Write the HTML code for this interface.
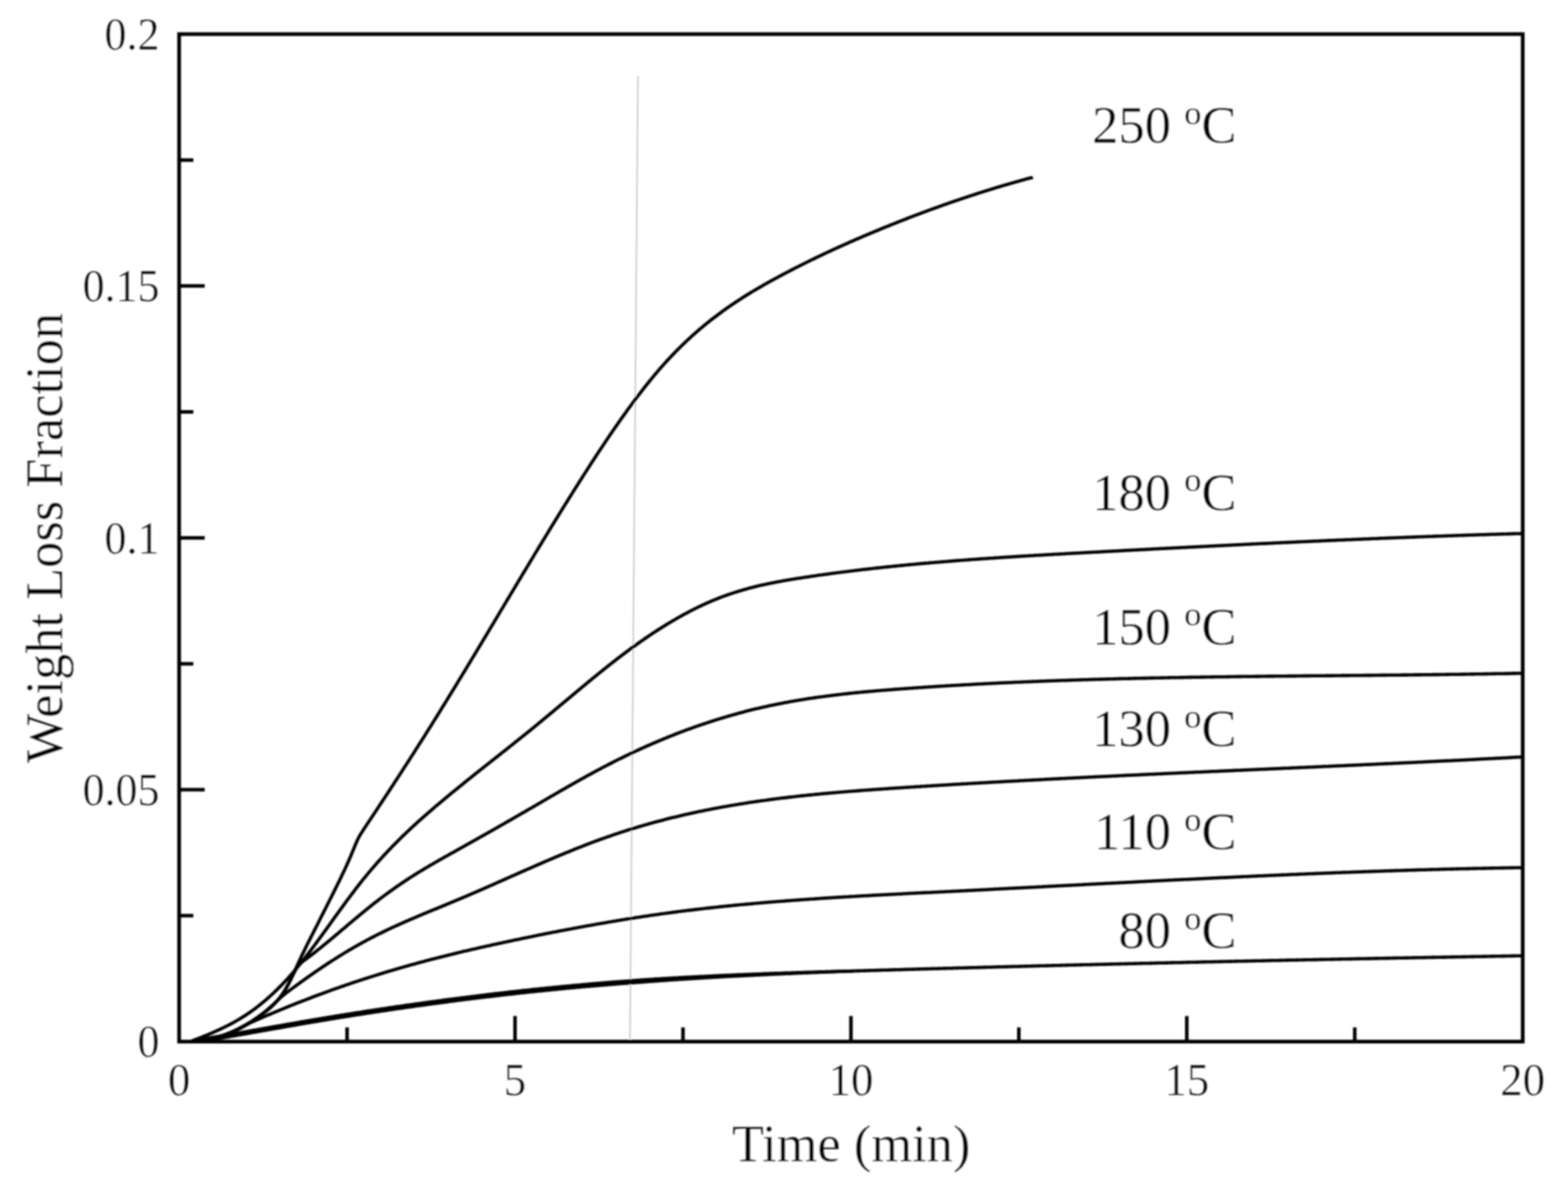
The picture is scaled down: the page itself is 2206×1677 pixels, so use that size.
<!DOCTYPE html>
<html lang="en"><head><meta charset="utf-8"><title>Weight Loss Fraction vs Time</title>
<style>html,body{margin:0;padding:0;background:#fff;}body{width:2206px;height:1677px;overflow:hidden;}svg{display:block;}text{font-family:"Liberation Serif","Times New Roman",Times,serif;fill:#000;stroke:#fff;stroke-width:0.4;stroke-linejoin:round;}</style>
</head><body>
<svg xmlns="http://www.w3.org/2000/svg" width="2206" height="1677" viewBox="0 0 2206 1677">
<defs><filter id="b" x="-2%" y="-2%" width="104%" height="104%"><feGaussianBlur stdDeviation="0.8"/></filter></defs>
<rect x="0" y="0" width="2206" height="1677" fill="#ffffff"/>
<g filter="url(#b)">
<line x1="897.5" y1="107" x2="886.3" y2="1462" stroke="#c8c8c8" stroke-width="2"/>
<g fill="none" stroke="#000" stroke-width="4.6" stroke-linejoin="round" stroke-linecap="butt">
<path d="M276.0,1464.6 L278.0,1464.4 L280.0,1464.3 L282.0,1464.1 L284.0,1463.9 L286.0,1463.6 L288.0,1463.3 L290.0,1463.0 L292.0,1462.6 L294.0,1462.3 L296.0,1461.8 L298.0,1461.4 L300.0,1460.9 L302.0,1460.4 L304.0,1459.9 L306.0,1459.3 L308.0,1458.7 L310.0,1458.0 L312.0,1457.4 L314.0,1456.7 L316.0,1456.0 L318.0,1455.2 L320.0,1454.4 L322.0,1453.6 L324.0,1452.8 L326.0,1451.9 L328.0,1451.0 L330.0,1450.1 L332.0,1449.1 L334.0,1448.1 L336.0,1447.1 L338.0,1446.1 L340.0,1445.0 L342.0,1443.9 L344.0,1442.8 L346.0,1441.7 L348.0,1440.5 L350.0,1439.3 L352.0,1438.1 L354.0,1436.9 L356.0,1435.6 L358.0,1434.3 L360.0,1433.0 L362.0,1431.6 L364.0,1430.2 L366.0,1428.9 L368.0,1427.4 L370.0,1426.0 L372.0,1424.5 L374.0,1423.0 L376.0,1421.4 L378.0,1419.8 L380.0,1418.1 L382.0,1416.3 L384.0,1414.4 L386.0,1412.4 L388.0,1410.3 L390.0,1408.1 L392.0,1405.7 L394.0,1403.1 L396.0,1400.4 L398.0,1397.5 L400.0,1394.4 L402.0,1391.1 L404.0,1387.5 L406.0,1383.8 L408.0,1379.9 L410.0,1375.8 L412.0,1371.6 L414.0,1367.3 L416.0,1362.9 L418.0,1358.6 L420.0,1354.2 L422.0,1349.9 L424.0,1345.6 L426.0,1341.5 L428.0,1337.4 L430.0,1333.3 L432.0,1329.3 L434.0,1325.3 L436.0,1321.4 L438.0,1317.4 L440.0,1313.5 L442.0,1309.5 L444.0,1305.6 L446.0,1301.7 L448.0,1297.7 L450.0,1293.8 L452.0,1289.8 L454.0,1285.9 L456.0,1281.9 L458.0,1278.0 L460.0,1274.0 L462.0,1270.0 L464.0,1266.0 L466.0,1262.1 L468.0,1258.1 L470.0,1254.1 L472.0,1250.1 L474.0,1246.0 L476.0,1242.0 L478.0,1237.9 L480.0,1233.8 L482.0,1229.6 L484.0,1225.4 L486.0,1221.1 L488.0,1216.7 L490.0,1212.3 L492.0,1207.7 L494.0,1203.0 L496.0,1198.2 L498.0,1193.3 L500.0,1188.4 L502.0,1183.8 L504.0,1179.5 L506.0,1175.8 L508.0,1172.5 L510.0,1169.4 L512.0,1166.3 L514.0,1163.3 L516.0,1160.3 L518.0,1157.3 L520.0,1154.3 L522.0,1151.3 L524.0,1148.3 L526.0,1145.2 L528.0,1142.2 L530.0,1139.2 L532.0,1136.2 L534.0,1133.1 L536.0,1130.1 L538.0,1127.1 L540.0,1124.0 L542.0,1121.0 L544.0,1118.0 L546.0,1114.9 L548.0,1111.9 L550.0,1108.8 L552.0,1105.7 L554.0,1102.7 L556.0,1099.6 L558.0,1096.5 L560.0,1093.5 L562.0,1090.4 L564.0,1087.3 L566.0,1084.2 L568.0,1081.1 L570.0,1078.0 L572.0,1074.9 L574.0,1071.8 L576.0,1068.7 L578.0,1065.6 L580.0,1062.5 L582.0,1059.4 L584.0,1056.2 L586.0,1053.1 L588.0,1050.0 L590.0,1046.8 L592.0,1043.7 L594.0,1040.5 L596.0,1037.4 L598.0,1034.2 L600.0,1031.0 L602.0,1027.8 L604.0,1024.7 L606.0,1021.5 L608.0,1018.3 L610.0,1015.1 L612.0,1011.9 L614.0,1008.7 L616.0,1005.5 L618.0,1002.2 L620.0,999.0 L622.0,995.8 L624.0,992.5 L626.0,989.3 L628.0,986.1 L630.0,982.8 L632.0,979.5 L634.0,976.3 L636.0,973.0 L638.0,969.8 L640.0,966.5 L642.0,963.2 L644.0,959.9 L646.0,956.6 L648.0,953.3 L650.0,950.1 L652.0,946.8 L654.0,943.5 L656.0,940.2 L658.0,936.9 L660.0,933.5 L662.0,930.2 L664.0,926.9 L666.0,923.6 L668.0,920.3 L670.0,917.0 L672.0,913.6 L674.0,910.3 L676.0,907.0 L678.0,903.7 L680.0,900.3 L682.0,897.0 L684.0,893.7 L686.0,890.3 L688.0,887.0 L690.0,883.6 L692.0,880.3 L694.0,877.0 L696.0,873.6 L698.0,870.3 L700.0,866.9 L702.0,863.6 L704.0,860.2 L706.0,856.9 L708.0,853.6 L710.0,850.2 L712.0,846.9 L714.0,843.5 L716.0,840.2 L718.0,836.8 L720.0,833.5 L722.0,830.2 L724.0,826.8 L726.0,823.5 L728.0,820.1 L730.0,816.8 L732.0,813.5 L734.0,810.1 L736.0,806.8 L738.0,803.5 L740.0,800.2 L742.0,796.8 L744.0,793.5 L746.0,790.2 L748.0,786.9 L750.0,783.6 L752.0,780.2 L754.0,776.9 L756.0,773.6 L758.0,770.3 L760.0,767.0 L762.0,763.7 L764.0,760.4 L766.0,757.2 L768.0,753.9 L770.0,750.6 L772.0,747.3 L774.0,744.0 L776.0,740.8 L778.0,737.5 L780.0,734.3 L782.0,731.0 L784.0,727.7 L786.0,724.5 L788.0,721.3 L790.0,718.0 L792.0,714.8 L794.0,711.6 L796.0,708.4 L798.0,705.2 L800.0,702.0 L802.0,698.8 L804.0,695.6 L806.0,692.4 L808.0,689.2 L810.0,686.0 L812.0,682.9 L814.0,679.7 L816.0,676.5 L818.0,673.4 L820.0,670.3 L822.0,667.1 L824.0,664.0 L826.0,660.9 L828.0,657.8 L830.0,654.7 L832.0,651.6 L834.0,648.5 L836.0,645.4 L838.0,642.4 L840.0,639.3 L842.0,636.3 L844.0,633.2 L846.0,630.2 L848.0,627.2 L850.0,624.2 L852.0,621.2 L854.0,618.2 L856.0,615.3 L858.0,612.3 L860.0,609.4 L862.0,606.5 L864.0,603.5 L866.0,600.6 L868.0,597.8 L870.0,594.9 L872.0,592.0 L874.0,589.2 L876.0,586.4 L878.0,583.6 L880.0,580.8 L882.0,578.0 L884.0,575.2 L886.0,572.5 L888.0,569.8 L890.0,567.0 L892.0,564.4 L894.0,561.7 L896.0,559.0 L898.0,556.4 L900.0,553.8 L902.0,551.2 L904.0,548.6 L906.0,546.0 L908.0,543.5 L910.0,541.0 L912.0,538.5 L914.0,536.0 L916.0,533.6 L918.0,531.1 L920.0,528.7 L922.0,526.3 L924.0,524.0 L926.0,521.6 L928.0,519.3 L930.0,517.0 L932.0,514.8 L934.0,512.5 L936.0,510.3 L938.0,508.1 L940.0,505.9 L942.0,503.8 L944.0,501.6 L946.0,499.5 L948.0,497.5 L950.0,495.4 L952.0,493.4 L954.0,491.3 L956.0,489.3 L958.0,487.4 L960.0,485.4 L962.0,483.5 L964.0,481.6 L966.0,479.7 L968.0,477.8 L970.0,476.0 L972.0,474.1 L974.0,472.3 L976.0,470.5 L978.0,468.8 L980.0,467.0 L982.0,465.3 L984.0,463.5 L986.0,461.8 L988.0,460.2 L990.0,458.5 L992.0,456.8 L994.0,455.2 L996.0,453.6 L998.0,452.0 L1000.0,450.4 L1002.0,448.9 L1004.0,447.3 L1006.0,445.8 L1008.0,444.3 L1010.0,442.8 L1012.0,441.3 L1014.0,439.8 L1016.0,438.3 L1018.0,436.9 L1020.0,435.5 L1022.0,434.0 L1024.0,432.6 L1026.0,431.3 L1028.0,429.9 L1030.0,428.5 L1032.0,427.2 L1034.0,425.8 L1036.0,424.5 L1038.0,423.2 L1040.0,421.9 L1042.0,420.6 L1044.0,419.3 L1046.0,418.0 L1048.0,416.8 L1050.0,415.5 L1052.0,414.3 L1054.0,413.0 L1056.0,411.8 L1058.0,410.6 L1060.0,409.4 L1062.0,408.2 L1064.0,407.0 L1066.0,405.9 L1068.0,404.7 L1070.0,403.5 L1072.0,402.4 L1074.0,401.2 L1076.0,400.1 L1078.0,399.0 L1080.0,397.8 L1082.0,396.7 L1084.0,395.6 L1086.0,394.5 L1088.0,393.4 L1090.0,392.3 L1092.0,391.2 L1094.0,390.2 L1096.0,389.1 L1098.0,388.0 L1100.0,386.9 L1102.0,385.9 L1104.0,384.8 L1106.0,383.8 L1108.0,382.7 L1110.0,381.7 L1112.0,380.6 L1114.0,379.6 L1116.0,378.6 L1118.0,377.5 L1120.0,376.5 L1122.0,375.5 L1124.0,374.5 L1126.0,373.5 L1128.0,372.5 L1130.0,371.5 L1132.0,370.5 L1134.0,369.5 L1136.0,368.5 L1138.0,367.5 L1140.0,366.5 L1142.0,365.5 L1144.0,364.6 L1146.0,363.6 L1148.0,362.6 L1150.0,361.7 L1152.0,360.7 L1154.0,359.8 L1156.0,358.8 L1158.0,357.9 L1160.0,356.9 L1162.0,356.0 L1164.0,355.0 L1166.0,354.1 L1168.0,353.2 L1170.0,352.3 L1172.0,351.3 L1174.0,350.4 L1176.0,349.5 L1178.0,348.6 L1180.0,347.7 L1182.0,346.8 L1184.0,345.9 L1186.0,345.0 L1188.0,344.1 L1190.0,343.2 L1192.0,342.3 L1194.0,341.4 L1196.0,340.5 L1198.0,339.7 L1200.0,338.8 L1202.0,337.9 L1204.0,337.0 L1206.0,336.2 L1208.0,335.3 L1210.0,334.5 L1212.0,333.6 L1214.0,332.7 L1216.0,331.9 L1218.0,331.0 L1220.0,330.2 L1222.0,329.3 L1224.0,328.5 L1226.0,327.7 L1228.0,326.8 L1230.0,326.0 L1232.0,325.2 L1234.0,324.3 L1236.0,323.5 L1238.0,322.7 L1240.0,321.8 L1242.0,321.0 L1244.0,320.2 L1246.0,319.4 L1248.0,318.6 L1250.0,317.8 L1252.0,317.0 L1254.0,316.2 L1256.0,315.4 L1258.0,314.6 L1260.0,313.8 L1262.0,313.0 L1264.0,312.2 L1266.0,311.4 L1268.0,310.6 L1270.0,309.8 L1272.0,309.0 L1274.0,308.3 L1276.0,307.5 L1278.0,306.7 L1280.0,305.9 L1282.0,305.2 L1284.0,304.4 L1286.0,303.6 L1288.0,302.9 L1290.0,302.1 L1292.0,301.4 L1294.0,300.6 L1296.0,299.9 L1298.0,299.1 L1300.0,298.4 L1302.0,297.6 L1304.0,296.9 L1306.0,296.1 L1308.0,295.4 L1310.0,294.7 L1312.0,294.0 L1314.0,293.2 L1316.0,292.5 L1318.0,291.8 L1320.0,291.1 L1322.0,290.3 L1324.0,289.6 L1326.0,288.9 L1328.0,288.2 L1330.0,287.5 L1332.0,286.8 L1334.0,286.1 L1336.0,285.4 L1338.0,284.7 L1340.0,284.0 L1342.0,283.3 L1344.0,282.6 L1346.0,282.0 L1348.0,281.3 L1350.0,280.6 L1352.0,279.9 L1354.0,279.3 L1356.0,278.6 L1358.0,277.9 L1360.0,277.3 L1362.0,276.6 L1364.0,275.9 L1366.0,275.3 L1368.0,274.6 L1370.0,274.0 L1372.0,273.3 L1374.0,272.7 L1376.0,272.0 L1378.0,271.4 L1380.0,270.8 L1382.0,270.1 L1384.0,269.5 L1386.0,268.9 L1388.0,268.2 L1390.0,267.6 L1392.0,267.0 L1394.0,266.4 L1396.0,265.8 L1398.0,265.1 L1400.0,264.5 L1402.0,263.9 L1404.0,263.3 L1406.0,262.7 L1408.0,262.1 L1410.0,261.5 L1412.0,260.9 L1414.0,260.3 L1416.0,259.8 L1418.0,259.2 L1420.0,258.6 L1422.0,258.0 L1424.0,257.4 L1426.0,256.9 L1428.0,256.3 L1430.0,255.7 L1432.0,255.2 L1434.0,254.6 L1436.0,254.0 L1438.0,253.5 L1440.0,252.9 L1442.0,252.4 L1444.0,251.8 L1446.0,251.3 L1448.0,250.8 L1450.0,250.3 L1452.0,249.9 L1453.0,249.4"/>
<path d="M270.0,1464.6 L272.0,1463.6 L274.0,1463.0 L276.0,1462.2 L278.0,1461.4 L280.0,1460.7 L282.0,1459.9 L284.0,1459.1 L286.0,1458.2 L288.0,1457.4 L290.0,1456.6 L292.0,1455.8 L294.0,1455.0 L296.0,1454.1 L298.0,1453.3 L300.0,1452.4 L302.0,1451.5 L304.0,1450.6 L306.0,1449.7 L308.0,1448.8 L310.0,1447.9 L312.0,1446.9 L314.0,1446.0 L316.0,1445.0 L318.0,1444.0 L320.0,1443.0 L322.0,1442.0 L324.0,1440.9 L326.0,1439.9 L328.0,1438.8 L330.0,1437.7 L332.0,1436.6 L334.0,1435.4 L336.0,1434.2 L338.0,1433.0 L340.0,1431.8 L342.0,1430.5 L344.0,1429.3 L346.0,1428.0 L348.0,1426.6 L350.0,1425.3 L352.0,1423.9 L354.0,1422.5 L356.0,1421.0 L358.0,1419.6 L360.0,1418.1 L362.0,1416.5 L364.0,1415.0 L366.0,1413.4 L368.0,1411.8 L370.0,1410.1 L372.0,1408.4 L374.0,1406.7 L376.0,1405.0 L378.0,1403.2 L380.0,1401.4 L382.0,1399.6 L384.0,1397.8 L386.0,1395.9 L388.0,1394.0 L390.0,1392.0 L392.0,1390.0 L394.0,1388.0 L396.0,1386.0 L398.0,1383.9 L400.0,1381.8 L402.0,1379.6 L404.0,1377.5 L406.0,1375.3 L408.0,1373.0 L410.0,1370.8 L412.0,1368.5 L414.0,1366.1 L416.0,1363.7 L418.0,1361.3 L420.0,1358.9 L422.0,1356.5 L424.0,1354.0 L426.0,1351.4 L428.0,1348.9 L430.0,1346.3 L432.0,1343.7 L434.0,1341.1 L436.0,1338.5 L438.0,1335.9 L440.0,1333.2 L442.0,1330.5 L444.0,1327.8 L446.0,1325.1 L448.0,1322.4 L450.0,1319.6 L452.0,1316.9 L454.0,1314.1 L456.0,1311.4 L458.0,1308.6 L460.0,1305.8 L462.0,1303.1 L464.0,1300.3 L466.0,1297.5 L468.0,1294.7 L470.0,1291.9 L472.0,1289.2 L474.0,1286.4 L476.0,1283.6 L478.0,1280.9 L480.0,1278.1 L482.0,1275.4 L484.0,1272.6 L486.0,1269.9 L488.0,1267.2 L490.0,1264.5 L492.0,1261.8 L494.0,1259.1 L496.0,1256.5 L498.0,1253.8 L500.0,1251.2 L502.0,1248.6 L504.0,1246.0 L506.0,1243.5 L508.0,1240.9 L510.0,1238.4 L512.0,1235.9 L514.0,1233.5 L516.0,1231.1 L518.0,1228.6 L520.0,1226.3 L522.0,1223.9 L524.0,1221.5 L526.0,1219.2 L528.0,1216.9 L530.0,1214.6 L532.0,1212.4 L534.0,1210.2 L536.0,1207.9 L538.0,1205.7 L540.0,1203.6 L542.0,1201.4 L544.0,1199.3 L546.0,1197.2 L548.0,1195.1 L550.0,1193.0 L552.0,1190.9 L554.0,1188.9 L556.0,1186.8 L558.0,1184.8 L560.0,1182.8 L562.0,1180.8 L564.0,1178.9 L566.0,1176.9 L568.0,1175.0 L570.0,1173.1 L572.0,1171.2 L574.0,1169.3 L576.0,1167.4 L578.0,1165.5 L580.0,1163.6 L582.0,1161.8 L584.0,1160.0 L586.0,1158.1 L588.0,1156.3 L590.0,1154.5 L592.0,1152.7 L594.0,1151.0 L596.0,1149.2 L598.0,1147.4 L600.0,1145.7 L602.0,1143.9 L604.0,1142.2 L606.0,1140.5 L608.0,1138.7 L610.0,1137.0 L612.0,1135.3 L614.0,1133.6 L616.0,1131.9 L618.0,1130.2 L620.0,1128.6 L622.0,1126.9 L624.0,1125.2 L626.0,1123.5 L628.0,1121.9 L630.0,1120.2 L632.0,1118.6 L634.0,1116.9 L636.0,1115.3 L638.0,1113.6 L640.0,1112.0 L642.0,1110.4 L644.0,1108.7 L646.0,1107.1 L648.0,1105.5 L650.0,1103.9 L652.0,1102.2 L654.0,1100.6 L656.0,1099.0 L658.0,1097.4 L660.0,1095.8 L662.0,1094.2 L664.0,1092.6 L666.0,1091.0 L668.0,1089.4 L670.0,1087.8 L672.0,1086.2 L674.0,1084.6 L676.0,1083.0 L678.0,1081.5 L680.0,1079.9 L682.0,1078.3 L684.0,1076.7 L686.0,1075.1 L688.0,1073.5 L690.0,1072.0 L692.0,1070.4 L694.0,1068.8 L696.0,1067.2 L698.0,1065.6 L700.0,1064.1 L702.0,1062.5 L704.0,1060.9 L706.0,1059.3 L708.0,1057.7 L710.0,1056.1 L712.0,1054.6 L714.0,1053.0 L716.0,1051.4 L718.0,1049.8 L720.0,1048.2 L722.0,1046.6 L724.0,1045.0 L726.0,1043.4 L728.0,1041.8 L730.0,1040.2 L732.0,1038.6 L734.0,1037.0 L736.0,1035.4 L738.0,1033.8 L740.0,1032.2 L742.0,1030.6 L744.0,1029.0 L746.0,1027.4 L748.0,1025.7 L750.0,1024.1 L752.0,1022.5 L754.0,1020.8 L756.0,1019.2 L758.0,1017.5 L760.0,1015.9 L762.0,1014.3 L764.0,1012.6 L766.0,1010.9 L768.0,1009.3 L770.0,1007.6 L772.0,1006.0 L774.0,1004.3 L776.0,1002.6 L778.0,1001.0 L780.0,999.3 L782.0,997.6 L784.0,995.9 L786.0,994.3 L788.0,992.6 L790.0,990.9 L792.0,989.3 L794.0,987.6 L796.0,985.9 L798.0,984.2 L800.0,982.6 L802.0,980.9 L804.0,979.2 L806.0,977.5 L808.0,975.9 L810.0,974.2 L812.0,972.5 L814.0,970.9 L816.0,969.2 L818.0,967.5 L820.0,965.9 L822.0,964.2 L824.0,962.6 L826.0,960.9 L828.0,959.3 L830.0,957.6 L832.0,956.0 L834.0,954.3 L836.0,952.7 L838.0,951.1 L840.0,949.5 L842.0,947.8 L844.0,946.2 L846.0,944.6 L848.0,943.0 L850.0,941.4 L852.0,939.8 L854.0,938.2 L856.0,936.6 L858.0,935.0 L860.0,933.5 L862.0,931.9 L864.0,930.3 L866.0,928.8 L868.0,927.2 L870.0,925.7 L872.0,924.2 L874.0,922.6 L876.0,921.1 L878.0,919.6 L880.0,918.1 L882.0,916.6 L884.0,915.1 L886.0,913.7 L888.0,912.2 L890.0,910.7 L892.0,909.3 L894.0,907.8 L896.0,906.4 L898.0,905.0 L900.0,903.6 L902.0,902.2 L904.0,900.8 L906.0,899.4 L908.0,898.0 L910.0,896.6 L912.0,895.3 L914.0,893.9 L916.0,892.6 L918.0,891.2 L920.0,889.9 L922.0,888.6 L924.0,887.3 L926.0,886.0 L928.0,884.7 L930.0,883.5 L932.0,882.2 L934.0,881.0 L936.0,879.7 L938.0,878.5 L940.0,877.3 L942.0,876.1 L944.0,874.9 L946.0,873.7 L948.0,872.5 L950.0,871.4 L952.0,870.2 L954.0,869.1 L956.0,867.9 L958.0,866.8 L960.0,865.7 L962.0,864.6 L964.0,863.5 L966.0,862.5 L968.0,861.4 L970.0,860.3 L972.0,859.3 L974.0,858.3 L976.0,857.3 L978.0,856.3 L980.0,855.3 L982.0,854.3 L984.0,853.3 L986.0,852.4 L988.0,851.4 L990.0,850.5 L992.0,849.6 L994.0,848.7 L996.0,847.8 L998.0,846.9 L1000.0,846.1 L1002.0,845.2 L1004.0,844.4 L1006.0,843.6 L1008.0,842.8 L1010.0,842.0 L1012.0,841.2 L1014.0,840.4 L1016.0,839.6 L1018.0,838.9 L1020.0,838.2 L1022.0,837.5 L1024.0,836.7 L1026.0,836.1 L1028.0,835.4 L1030.0,834.7 L1032.0,834.1 L1034.0,833.4 L1036.0,832.8 L1038.0,832.2 L1040.0,831.5 L1042.0,830.9 L1044.0,830.4 L1046.0,829.8 L1048.0,829.2 L1050.0,828.7 L1052.0,828.1 L1054.0,827.6 L1056.0,827.0 L1058.0,826.5 L1060.0,826.0 L1062.0,825.5 L1064.0,825.0 L1066.0,824.5 L1068.0,824.1 L1070.0,823.6 L1072.0,823.1 L1074.0,822.7 L1076.0,822.3 L1078.0,821.8 L1080.0,821.4 L1082.0,821.0 L1084.0,820.6 L1086.0,820.2 L1088.0,819.8 L1090.0,819.4 L1092.0,819.0 L1094.0,818.6 L1096.0,818.2 L1098.0,817.9 L1100.0,817.5 L1102.0,817.1 L1104.0,816.8 L1106.0,816.4 L1108.0,816.1 L1110.0,815.7 L1112.0,815.4 L1114.0,815.1 L1116.0,814.8 L1118.0,814.4 L1120.0,814.1 L1122.0,813.8 L1124.0,813.5 L1126.0,813.2 L1128.0,812.9 L1130.0,812.6 L1132.0,812.2 L1134.0,811.9 L1136.0,811.7 L1138.0,811.4 L1140.0,811.1 L1142.0,810.8 L1144.0,810.5 L1146.0,810.2 L1148.0,809.9 L1150.0,809.6 L1152.0,809.3 L1154.0,809.0 L1156.0,808.8 L1158.0,808.5 L1160.0,808.2 L1162.0,807.9 L1164.0,807.7 L1166.0,807.4 L1168.0,807.1 L1170.0,806.8 L1172.0,806.6 L1174.0,806.3 L1176.0,806.1 L1178.0,805.8 L1180.0,805.5 L1182.0,805.3 L1184.0,805.0 L1186.0,804.8 L1188.0,804.5 L1190.0,804.3 L1192.0,804.0 L1194.0,803.8 L1196.0,803.5 L1198.0,803.3 L1200.0,803.0 L1202.0,802.8 L1204.0,802.5 L1206.0,802.3 L1208.0,802.1 L1210.0,801.8 L1212.0,801.6 L1214.0,801.3 L1216.0,801.1 L1218.0,800.9 L1220.0,800.7 L1222.0,800.4 L1224.0,800.2 L1226.0,800.0 L1228.0,799.8 L1230.0,799.5 L1232.0,799.3 L1234.0,799.1 L1236.0,798.9 L1238.0,798.7 L1240.0,798.4 L1242.0,798.2 L1244.0,798.0 L1246.0,797.8 L1248.0,797.6 L1250.0,797.4 L1252.0,797.2 L1254.0,797.0 L1256.0,796.8 L1258.0,796.6 L1260.0,796.4 L1262.0,796.2 L1264.0,796.0 L1266.0,795.8 L1268.0,795.6 L1270.0,795.4 L1272.0,795.2 L1274.0,795.0 L1276.0,794.8 L1278.0,794.6 L1280.0,794.4 L1282.0,794.2 L1284.0,794.0 L1286.0,793.9 L1288.0,793.7 L1290.0,793.5 L1292.0,793.3 L1294.0,793.1 L1296.0,792.9 L1298.0,792.8 L1300.0,792.6 L1302.0,792.4 L1304.0,792.2 L1306.0,792.1 L1308.0,791.9 L1310.0,791.7 L1312.0,791.5 L1314.0,791.4 L1316.0,791.2 L1318.0,791.0 L1320.0,790.9 L1322.0,790.7 L1324.0,790.5 L1326.0,790.4 L1328.0,790.2 L1330.0,790.0 L1332.0,789.9 L1334.0,789.7 L1336.0,789.6 L1338.0,789.4 L1340.0,789.2 L1342.0,789.1 L1344.0,788.9 L1346.0,788.8 L1348.0,788.6 L1350.0,788.5 L1352.0,788.3 L1354.0,788.2 L1356.0,788.0 L1358.0,787.9 L1360.0,787.7 L1362.0,787.6 L1364.0,787.4 L1366.0,787.3 L1368.0,787.1 L1370.0,787.0 L1372.0,786.9 L1374.0,786.7 L1376.0,786.6 L1378.0,786.4 L1380.0,786.3 L1382.0,786.1 L1384.0,786.0 L1386.0,785.9 L1388.0,785.7 L1390.0,785.6 L1392.0,785.5 L1394.0,785.3 L1396.0,785.2 L1398.0,785.1 L1400.0,784.9 L1402.0,784.8 L1404.0,784.7 L1406.0,784.5 L1408.0,784.4 L1410.0,784.3 L1412.0,784.1 L1414.0,784.0 L1416.0,783.9 L1418.0,783.8 L1420.0,783.6 L1422.0,783.5 L1424.0,783.4 L1426.0,783.3 L1428.0,783.1 L1430.0,783.0 L1432.0,782.9 L1434.0,782.8 L1436.0,782.6 L1438.0,782.5 L1440.0,782.4 L1442.0,782.3 L1444.0,782.2 L1446.0,782.0 L1448.0,781.9 L1450.0,781.8 L1452.0,781.7 L1454.0,781.6 L1456.0,781.4 L1458.0,781.3 L1460.0,781.2 L1462.0,781.1 L1464.0,781.0 L1466.0,780.9 L1468.0,780.7 L1470.0,780.6 L1472.0,780.5 L1474.0,780.4 L1476.0,780.3 L1478.0,780.2 L1480.0,780.1 L1482.0,779.9 L1484.0,779.8 L1486.0,779.7 L1488.0,779.6 L1490.0,779.5 L1492.0,779.4 L1494.0,779.3 L1496.0,779.2 L1498.0,779.1 L1500.0,778.9 L1502.0,778.8 L1504.0,778.7 L1506.0,778.6 L1508.0,778.5 L1510.0,778.4 L1512.0,778.3 L1514.0,778.2 L1516.0,778.1 L1518.0,778.0 L1520.0,777.9 L1522.0,777.7 L1524.0,777.6 L1526.0,777.5 L1528.0,777.4 L1530.0,777.3 L1532.0,777.2 L1534.0,777.1 L1536.0,777.0 L1538.0,776.9 L1540.0,776.8 L1542.0,776.7 L1544.0,776.6 L1546.0,776.5 L1548.0,776.4 L1550.0,776.2 L1552.0,776.1 L1554.0,776.0 L1556.0,775.9 L1558.0,775.8 L1560.0,775.7 L1562.0,775.6 L1564.0,775.5 L1566.0,775.4 L1568.0,775.3 L1570.0,775.2 L1572.0,775.1 L1574.0,775.0 L1576.0,774.9 L1578.0,774.8 L1580.0,774.6 L1582.0,774.5 L1584.0,774.4 L1586.0,774.3 L1588.0,774.2 L1590.0,774.1 L1592.0,774.0 L1594.0,773.9 L1596.0,773.8 L1598.0,773.7 L1600.0,773.6 L1602.0,773.5 L1604.0,773.4 L1606.0,773.3 L1608.0,773.2 L1610.0,773.1 L1612.0,773.0 L1614.0,772.9 L1616.0,772.8 L1618.0,772.7 L1620.0,772.5 L1622.0,772.4 L1624.0,772.3 L1626.0,772.2 L1628.0,772.1 L1630.0,772.0 L1632.0,771.9 L1634.0,771.8 L1636.0,771.7 L1638.0,771.6 L1640.0,771.5 L1642.0,771.4 L1644.0,771.3 L1646.0,771.2 L1648.0,771.1 L1650.0,771.0 L1652.0,770.9 L1654.0,770.8 L1656.0,770.7 L1658.0,770.6 L1660.0,770.5 L1662.0,770.4 L1664.0,770.3 L1666.0,770.2 L1668.0,770.1 L1670.0,770.0 L1672.0,769.9 L1674.0,769.8 L1676.0,769.7 L1678.0,769.6 L1680.0,769.5 L1682.0,769.4 L1684.0,769.3 L1686.0,769.2 L1688.0,769.1 L1690.0,769.0 L1692.0,768.9 L1694.0,768.8 L1696.0,768.7 L1698.0,768.6 L1700.0,768.5 L1702.0,768.4 L1704.0,768.3 L1706.0,768.2 L1708.0,768.1 L1710.0,768.0 L1712.0,767.9 L1714.0,767.8 L1716.0,767.7 L1718.0,767.6 L1720.0,767.5 L1722.0,767.4 L1724.0,767.3 L1726.0,767.2 L1728.0,767.1 L1730.0,767.0 L1732.0,766.9 L1734.0,766.8 L1736.0,766.7 L1738.0,766.6 L1740.0,766.5 L1742.0,766.4 L1744.0,766.3 L1746.0,766.2 L1748.0,766.1 L1750.0,766.0 L1752.0,765.9 L1754.0,765.8 L1756.0,765.7 L1758.0,765.6 L1760.0,765.5 L1762.0,765.4 L1764.0,765.3 L1766.0,765.2 L1768.0,765.1 L1770.0,765.0 L1772.0,764.9 L1774.0,764.8 L1776.0,764.7 L1778.0,764.6 L1780.0,764.6 L1782.0,764.5 L1784.0,764.4 L1786.0,764.3 L1788.0,764.2 L1790.0,764.1 L1792.0,764.0 L1794.0,763.9 L1796.0,763.8 L1798.0,763.7 L1800.0,763.6 L1802.0,763.5 L1804.0,763.4 L1806.0,763.3 L1808.0,763.2 L1810.0,763.1 L1812.0,763.1 L1814.0,763.0 L1816.0,762.9 L1818.0,762.8 L1820.0,762.7 L1822.0,762.6 L1824.0,762.5 L1826.0,762.4 L1828.0,762.3 L1830.0,762.2 L1832.0,762.1 L1834.0,762.0 L1836.0,762.0 L1838.0,761.9 L1840.0,761.8 L1842.0,761.7 L1844.0,761.6 L1846.0,761.5 L1848.0,761.4 L1850.0,761.3 L1852.0,761.2 L1854.0,761.2 L1856.0,761.1 L1858.0,761.0 L1860.0,760.9 L1862.0,760.8 L1864.0,760.7 L1866.0,760.6 L1868.0,760.5 L1870.0,760.4 L1872.0,760.4 L1874.0,760.3 L1876.0,760.2 L1878.0,760.1 L1880.0,760.0 L1882.0,759.9 L1884.0,759.8 L1886.0,759.8 L1888.0,759.7 L1890.0,759.6 L1892.0,759.5 L1894.0,759.4 L1896.0,759.3 L1898.0,759.2 L1900.0,759.2 L1902.0,759.1 L1904.0,759.0 L1906.0,758.9 L1908.0,758.8 L1910.0,758.7 L1912.0,758.6 L1914.0,758.6 L1916.0,758.5 L1918.0,758.4 L1920.0,758.3 L1922.0,758.2 L1924.0,758.2 L1926.0,758.1 L1928.0,758.0 L1930.0,757.9 L1932.0,757.8 L1934.0,757.7 L1936.0,757.7 L1938.0,757.6 L1940.0,757.5 L1942.0,757.4 L1944.0,757.3 L1946.0,757.3 L1948.0,757.2 L1950.0,757.1 L1952.0,757.0 L1954.0,756.9 L1956.0,756.9 L1958.0,756.8 L1960.0,756.7 L1962.0,756.6 L1964.0,756.5 L1966.0,756.5 L1968.0,756.4 L1970.0,756.3 L1972.0,756.2 L1974.0,756.2 L1976.0,756.1 L1978.0,756.0 L1980.0,755.9 L1982.0,755.9 L1984.0,755.8 L1986.0,755.7 L1988.0,755.6 L1990.0,755.6 L1992.0,755.5 L1994.0,755.4 L1996.0,755.3 L1998.0,755.3 L2000.0,755.2 L2002.0,755.1 L2004.0,755.0 L2006.0,755.0 L2008.0,754.9 L2010.0,754.8 L2012.0,754.7 L2014.0,754.7 L2016.0,754.6 L2018.0,754.5 L2020.0,754.4 L2022.0,754.4 L2024.0,754.3 L2026.0,754.2 L2028.0,754.2 L2030.0,754.1 L2032.0,754.0 L2034.0,754.0 L2036.0,753.9 L2038.0,753.8 L2040.0,753.7 L2042.0,753.7 L2044.0,753.6 L2046.0,753.5 L2048.0,753.5 L2050.0,753.4 L2052.0,753.3 L2054.0,753.3 L2056.0,753.2 L2058.0,753.1 L2060.0,753.1 L2062.0,753.0 L2064.0,752.9 L2066.0,752.9 L2068.0,752.8 L2070.0,752.7 L2072.0,752.7 L2074.0,752.6 L2076.0,752.5 L2078.0,752.5 L2080.0,752.4 L2082.0,752.3 L2084.0,752.3 L2086.0,752.2 L2088.0,752.2 L2090.0,752.1 L2092.0,752.0 L2094.0,752.0 L2096.0,751.9 L2098.0,751.8 L2100.0,751.8 L2102.0,751.7 L2104.0,751.7 L2106.0,751.6 L2108.0,751.5 L2110.0,751.5 L2112.0,751.4 L2114.0,751.4 L2116.0,751.3 L2118.0,751.2 L2120.0,751.2 L2122.0,751.1 L2124.0,751.1 L2126.0,751.0 L2128.0,750.9 L2130.0,750.9 L2132.0,750.8 L2134.0,750.8 L2136.0,750.7 L2138.0,750.7 L2140.0,750.6"/>
<path d="M276.0,1464.6 L278.0,1464.3 L280.0,1464.1 L282.0,1463.8 L284.0,1463.5 L286.0,1463.2 L288.0,1462.9 L290.0,1462.5 L292.0,1462.1 L294.0,1461.7 L296.0,1461.3 L298.0,1460.9 L300.0,1460.4 L302.0,1459.9 L304.0,1459.4 L306.0,1458.9 L308.0,1458.3 L310.0,1457.7 L312.0,1457.1 L314.0,1456.5 L316.0,1455.8 L318.0,1455.1 L320.0,1454.4 L322.0,1453.7 L324.0,1452.9 L326.0,1452.1 L328.0,1451.2 L330.0,1450.4 L332.0,1449.5 L334.0,1448.5 L336.0,1447.6 L338.0,1446.6 L340.0,1445.6 L342.0,1444.5 L344.0,1443.4 L346.0,1442.3 L348.0,1441.1 L350.0,1439.9 L352.0,1438.7 L354.0,1437.4 L356.0,1436.1 L358.0,1434.8 L360.0,1433.4 L362.0,1432.0 L364.0,1430.6 L366.0,1429.1 L368.0,1427.5 L370.0,1426.0 L372.0,1424.4 L374.0,1422.7 L376.0,1421.0 L378.0,1419.3 L380.0,1417.5 L382.0,1415.7 L384.0,1413.8 L386.0,1411.9 L388.0,1409.9 L390.0,1407.8 L392.0,1405.6 L394.0,1403.2 L396.0,1400.6 L398.0,1397.8 L400.0,1394.7 L402.0,1391.4 L404.0,1387.9 L406.0,1384.1 L408.0,1380.1 L410.0,1376.1 L412.0,1372.0 L414.0,1367.9 L416.0,1364.1 L418.0,1360.7 L420.0,1358.0 L422.0,1355.9 L424.0,1354.2 L426.0,1352.6 L428.0,1351.2 L430.0,1349.7 L432.0,1348.2 L434.0,1346.7 L436.0,1345.2 L438.0,1343.7 L440.0,1342.1 L442.0,1340.6 L444.0,1339.0 L446.0,1337.4 L448.0,1335.8 L450.0,1334.2 L452.0,1332.6 L454.0,1331.0 L456.0,1329.3 L458.0,1327.7 L460.0,1326.0 L462.0,1324.4 L464.0,1322.7 L466.0,1321.1 L468.0,1319.4 L470.0,1317.7 L472.0,1316.0 L474.0,1314.4 L476.0,1312.7 L478.0,1311.0 L480.0,1309.3 L482.0,1307.6 L484.0,1305.9 L486.0,1304.2 L488.0,1302.5 L490.0,1300.8 L492.0,1299.1 L494.0,1297.5 L496.0,1295.8 L498.0,1294.1 L500.0,1292.4 L502.0,1290.7 L504.0,1289.1 L506.0,1287.4 L508.0,1285.8 L510.0,1284.1 L512.0,1282.5 L514.0,1280.8 L516.0,1279.2 L518.0,1277.6 L520.0,1276.0 L522.0,1274.4 L524.0,1272.8 L526.0,1271.2 L528.0,1269.7 L530.0,1268.1 L532.0,1266.6 L534.0,1265.0 L536.0,1263.5 L538.0,1262.0 L540.0,1260.5 L542.0,1259.0 L544.0,1257.5 L546.0,1256.1 L548.0,1254.6 L550.0,1253.2 L552.0,1251.8 L554.0,1250.3 L556.0,1248.9 L558.0,1247.5 L560.0,1246.1 L562.0,1244.8 L564.0,1243.4 L566.0,1242.0 L568.0,1240.7 L570.0,1239.4 L572.0,1238.0 L574.0,1236.7 L576.0,1235.4 L578.0,1234.1 L580.0,1232.9 L582.0,1231.6 L584.0,1230.3 L586.0,1229.1 L588.0,1227.8 L590.0,1226.6 L592.0,1225.4 L594.0,1224.2 L596.0,1223.0 L598.0,1221.8 L600.0,1220.6 L602.0,1219.4 L604.0,1218.2 L606.0,1217.0 L608.0,1215.9 L610.0,1214.7 L612.0,1213.6 L614.0,1212.4 L616.0,1211.3 L618.0,1210.1 L620.0,1209.0 L622.0,1207.9 L624.0,1206.7 L626.0,1205.6 L628.0,1204.5 L630.0,1203.4 L632.0,1202.2 L634.0,1201.1 L636.0,1200.0 L638.0,1198.9 L640.0,1197.8 L642.0,1196.7 L644.0,1195.5 L646.0,1194.4 L648.0,1193.3 L650.0,1192.2 L652.0,1191.1 L654.0,1190.0 L656.0,1188.8 L658.0,1187.7 L660.0,1186.6 L662.0,1185.5 L664.0,1184.3 L666.0,1183.2 L668.0,1182.1 L670.0,1181.0 L672.0,1179.8 L674.0,1178.7 L676.0,1177.6 L678.0,1176.5 L680.0,1175.3 L682.0,1174.2 L684.0,1173.1 L686.0,1171.9 L688.0,1170.8 L690.0,1169.7 L692.0,1168.5 L694.0,1167.4 L696.0,1166.3 L698.0,1165.1 L700.0,1164.0 L702.0,1162.8 L704.0,1161.7 L706.0,1160.6 L708.0,1159.4 L710.0,1158.3 L712.0,1157.1 L714.0,1156.0 L716.0,1154.8 L718.0,1153.7 L720.0,1152.5 L722.0,1151.4 L724.0,1150.2 L726.0,1149.1 L728.0,1147.9 L730.0,1146.8 L732.0,1145.6 L734.0,1144.5 L736.0,1143.3 L738.0,1142.2 L740.0,1141.0 L742.0,1139.8 L744.0,1138.7 L746.0,1137.5 L748.0,1136.4 L750.0,1135.2 L752.0,1134.0 L754.0,1132.9 L756.0,1131.7 L758.0,1130.5 L760.0,1129.4 L762.0,1128.2 L764.0,1127.1 L766.0,1125.9 L768.0,1124.7 L770.0,1123.6 L772.0,1122.4 L774.0,1121.2 L776.0,1120.1 L778.0,1118.9 L780.0,1117.8 L782.0,1116.6 L784.0,1115.4 L786.0,1114.3 L788.0,1113.1 L790.0,1112.0 L792.0,1110.8 L794.0,1109.7 L796.0,1108.5 L798.0,1107.4 L800.0,1106.2 L802.0,1105.1 L804.0,1104.0 L806.0,1102.8 L808.0,1101.7 L810.0,1100.6 L812.0,1099.4 L814.0,1098.3 L816.0,1097.2 L818.0,1096.1 L820.0,1095.0 L822.0,1093.9 L824.0,1092.7 L826.0,1091.6 L828.0,1090.5 L830.0,1089.4 L832.0,1088.4 L834.0,1087.3 L836.0,1086.2 L838.0,1085.1 L840.0,1084.0 L842.0,1083.0 L844.0,1081.9 L846.0,1080.8 L848.0,1079.8 L850.0,1078.7 L852.0,1077.7 L854.0,1076.7 L856.0,1075.6 L858.0,1074.6 L860.0,1073.6 L862.0,1072.6 L864.0,1071.5 L866.0,1070.5 L868.0,1069.5 L870.0,1068.5 L872.0,1067.5 L874.0,1066.6 L876.0,1065.6 L878.0,1064.6 L880.0,1063.6 L882.0,1062.7 L884.0,1061.7 L886.0,1060.7 L888.0,1059.8 L890.0,1058.9 L892.0,1057.9 L894.0,1057.0 L896.0,1056.1 L898.0,1055.1 L900.0,1054.2 L902.0,1053.3 L904.0,1052.4 L906.0,1051.5 L908.0,1050.6 L910.0,1049.7 L912.0,1048.8 L914.0,1047.9 L916.0,1047.1 L918.0,1046.2 L920.0,1045.3 L922.0,1044.5 L924.0,1043.6 L926.0,1042.8 L928.0,1041.9 L930.0,1041.1 L932.0,1040.3 L934.0,1039.4 L936.0,1038.6 L938.0,1037.8 L940.0,1037.0 L942.0,1036.2 L944.0,1035.4 L946.0,1034.6 L948.0,1033.8 L950.0,1033.0 L952.0,1032.2 L954.0,1031.5 L956.0,1030.7 L958.0,1029.9 L960.0,1029.2 L962.0,1028.4 L964.0,1027.7 L966.0,1026.9 L968.0,1026.2 L970.0,1025.5 L972.0,1024.8 L974.0,1024.0 L976.0,1023.3 L978.0,1022.6 L980.0,1021.9 L982.0,1021.2 L984.0,1020.5 L986.0,1019.8 L988.0,1019.1 L990.0,1018.5 L992.0,1017.8 L994.0,1017.1 L996.0,1016.5 L998.0,1015.8 L1000.0,1015.2 L1002.0,1014.5 L1004.0,1013.9 L1006.0,1013.2 L1008.0,1012.6 L1010.0,1012.0 L1012.0,1011.4 L1014.0,1010.8 L1016.0,1010.2 L1018.0,1009.5 L1020.0,1009.0 L1022.0,1008.4 L1024.0,1007.8 L1026.0,1007.2 L1028.0,1006.6 L1030.0,1006.0 L1032.0,1005.5 L1034.0,1004.9 L1036.0,1004.4 L1038.0,1003.8 L1040.0,1003.3 L1042.0,1002.7 L1044.0,1002.2 L1046.0,1001.7 L1048.0,1001.1 L1050.0,1000.6 L1052.0,1000.1 L1054.0,999.6 L1056.0,999.1 L1058.0,998.6 L1060.0,998.1 L1062.0,997.6 L1064.0,997.1 L1066.0,996.7 L1068.0,996.2 L1070.0,995.7 L1072.0,995.3 L1074.0,994.8 L1076.0,994.4 L1078.0,993.9 L1080.0,993.5 L1082.0,993.1 L1084.0,992.6 L1086.0,992.2 L1088.0,991.8 L1090.0,991.4 L1092.0,991.0 L1094.0,990.6 L1096.0,990.2 L1098.0,989.8 L1100.0,989.4 L1102.0,989.0 L1104.0,988.6 L1106.0,988.2 L1108.0,987.9 L1110.0,987.5 L1112.0,987.1 L1114.0,986.8 L1116.0,986.4 L1118.0,986.1 L1120.0,985.7 L1122.0,985.4 L1124.0,985.1 L1126.0,984.7 L1128.0,984.4 L1130.0,984.1 L1132.0,983.8 L1134.0,983.4 L1136.0,983.1 L1138.0,982.8 L1140.0,982.5 L1142.0,982.2 L1144.0,981.9 L1146.0,981.6 L1148.0,981.4 L1150.0,981.1 L1152.0,980.8 L1154.0,980.5 L1156.0,980.2 L1158.0,980.0 L1160.0,979.7 L1162.0,979.4 L1164.0,979.2 L1166.0,978.9 L1168.0,978.7 L1170.0,978.4 L1172.0,978.2 L1174.0,977.9 L1176.0,977.7 L1178.0,977.4 L1180.0,977.2 L1182.0,977.0 L1184.0,976.8 L1186.0,976.5 L1188.0,976.3 L1190.0,976.1 L1192.0,975.9 L1194.0,975.6 L1196.0,975.4 L1198.0,975.2 L1200.0,975.0 L1202.0,974.8 L1204.0,974.6 L1206.0,974.4 L1208.0,974.2 L1210.0,974.0 L1212.0,973.8 L1214.0,973.6 L1216.0,973.4 L1218.0,973.3 L1220.0,973.1 L1222.0,972.9 L1224.0,972.7 L1226.0,972.5 L1228.0,972.4 L1230.0,972.2 L1232.0,972.0 L1234.0,971.8 L1236.0,971.7 L1238.0,971.5 L1240.0,971.3 L1242.0,971.2 L1244.0,971.0 L1246.0,970.9 L1248.0,970.7 L1250.0,970.5 L1252.0,970.4 L1254.0,970.2 L1256.0,970.1 L1258.0,969.9 L1260.0,969.8 L1262.0,969.6 L1264.0,969.5 L1266.0,969.3 L1268.0,969.2 L1270.0,969.0 L1272.0,968.9 L1274.0,968.7 L1276.0,968.6 L1278.0,968.5 L1280.0,968.3 L1282.0,968.2 L1284.0,968.0 L1286.0,967.9 L1288.0,967.8 L1290.0,967.6 L1292.0,967.5 L1294.0,967.3 L1296.0,967.2 L1298.0,967.1 L1300.0,966.9 L1302.0,966.8 L1304.0,966.7 L1306.0,966.5 L1308.0,966.4 L1310.0,966.3 L1312.0,966.2 L1314.0,966.0 L1316.0,965.9 L1318.0,965.8 L1320.0,965.6 L1322.0,965.5 L1324.0,965.4 L1326.0,965.3 L1328.0,965.2 L1330.0,965.0 L1332.0,964.9 L1334.0,964.8 L1336.0,964.7 L1338.0,964.5 L1340.0,964.4 L1342.0,964.3 L1344.0,964.2 L1346.0,964.1 L1348.0,964.0 L1350.0,963.9 L1352.0,963.7 L1354.0,963.6 L1356.0,963.5 L1358.0,963.4 L1360.0,963.3 L1362.0,963.2 L1364.0,963.1 L1366.0,963.0 L1368.0,962.9 L1370.0,962.7 L1372.0,962.6 L1374.0,962.5 L1376.0,962.4 L1378.0,962.3 L1380.0,962.2 L1382.0,962.1 L1384.0,962.0 L1386.0,961.9 L1388.0,961.8 L1390.0,961.7 L1392.0,961.6 L1394.0,961.5 L1396.0,961.4 L1398.0,961.3 L1400.0,961.2 L1402.0,961.1 L1404.0,961.0 L1406.0,960.9 L1408.0,960.8 L1410.0,960.7 L1412.0,960.6 L1414.0,960.5 L1416.0,960.5 L1418.0,960.4 L1420.0,960.3 L1422.0,960.2 L1424.0,960.1 L1426.0,960.0 L1428.0,959.9 L1430.0,959.8 L1432.0,959.7 L1434.0,959.7 L1436.0,959.6 L1438.0,959.5 L1440.0,959.4 L1442.0,959.3 L1444.0,959.2 L1446.0,959.1 L1448.0,959.1 L1450.0,959.0 L1452.0,958.9 L1454.0,958.8 L1456.0,958.7 L1458.0,958.7 L1460.0,958.6 L1462.0,958.5 L1464.0,958.4 L1466.0,958.4 L1468.0,958.3 L1470.0,958.2 L1472.0,958.1 L1474.0,958.0 L1476.0,958.0 L1478.0,957.9 L1480.0,957.8 L1482.0,957.8 L1484.0,957.7 L1486.0,957.6 L1488.0,957.5 L1490.0,957.5 L1492.0,957.4 L1494.0,957.3 L1496.0,957.3 L1498.0,957.2 L1500.0,957.1 L1502.0,957.1 L1504.0,957.0 L1506.0,956.9 L1508.0,956.9 L1510.0,956.8 L1512.0,956.7 L1514.0,956.7 L1516.0,956.6 L1518.0,956.5 L1520.0,956.5 L1522.0,956.4 L1524.0,956.3 L1526.0,956.3 L1528.0,956.2 L1530.0,956.2 L1532.0,956.1 L1534.0,956.0 L1536.0,956.0 L1538.0,955.9 L1540.0,955.9 L1542.0,955.8 L1544.0,955.8 L1546.0,955.7 L1548.0,955.6 L1550.0,955.6 L1552.0,955.5 L1554.0,955.5 L1556.0,955.4 L1558.0,955.4 L1560.0,955.3 L1562.0,955.3 L1564.0,955.2 L1566.0,955.2 L1568.0,955.1 L1570.0,955.0 L1572.0,955.0 L1574.0,954.9 L1576.0,954.9 L1578.0,954.8 L1580.0,954.8 L1582.0,954.7 L1584.0,954.7 L1586.0,954.7 L1588.0,954.6 L1590.0,954.6 L1592.0,954.5 L1594.0,954.5 L1596.0,954.4 L1598.0,954.4 L1600.0,954.3 L1602.0,954.3 L1604.0,954.2 L1606.0,954.2 L1608.0,954.1 L1610.0,954.1 L1612.0,954.1 L1614.0,954.0 L1616.0,954.0 L1618.0,953.9 L1620.0,953.9 L1622.0,953.9 L1624.0,953.8 L1626.0,953.8 L1628.0,953.7 L1630.0,953.7 L1632.0,953.7 L1634.0,953.6 L1636.0,953.6 L1638.0,953.5 L1640.0,953.5 L1642.0,953.5 L1644.0,953.4 L1646.0,953.4 L1648.0,953.3 L1650.0,953.3 L1652.0,953.3 L1654.0,953.2 L1656.0,953.2 L1658.0,953.2 L1660.0,953.1 L1662.0,953.1 L1664.0,953.1 L1666.0,953.0 L1668.0,953.0 L1670.0,953.0 L1672.0,952.9 L1674.0,952.9 L1676.0,952.9 L1678.0,952.8 L1680.0,952.8 L1682.0,952.8 L1684.0,952.7 L1686.0,952.7 L1688.0,952.7 L1690.0,952.6 L1692.0,952.6 L1694.0,952.6 L1696.0,952.5 L1698.0,952.5 L1700.0,952.5 L1702.0,952.5 L1704.0,952.4 L1706.0,952.4 L1708.0,952.4 L1710.0,952.3 L1712.0,952.3 L1714.0,952.3 L1716.0,952.3 L1718.0,952.2 L1720.0,952.2 L1722.0,952.2 L1724.0,952.2 L1726.0,952.1 L1728.0,952.1 L1730.0,952.1 L1732.0,952.0 L1734.0,952.0 L1736.0,952.0 L1738.0,952.0 L1740.0,951.9 L1742.0,951.9 L1744.0,951.9 L1746.0,951.9 L1748.0,951.8 L1750.0,951.8 L1752.0,951.8 L1754.0,951.8 L1756.0,951.8 L1758.0,951.7 L1760.0,951.7 L1762.0,951.7 L1764.0,951.7 L1766.0,951.6 L1768.0,951.6 L1770.0,951.6 L1772.0,951.6 L1774.0,951.5 L1776.0,951.5 L1778.0,951.5 L1780.0,951.5 L1782.0,951.5 L1784.0,951.4 L1786.0,951.4 L1788.0,951.4 L1790.0,951.4 L1792.0,951.4 L1794.0,951.3 L1796.0,951.3 L1798.0,951.3 L1800.0,951.3 L1802.0,951.3 L1804.0,951.2 L1806.0,951.2 L1808.0,951.2 L1810.0,951.2 L1812.0,951.1 L1814.0,951.1 L1816.0,951.1 L1818.0,951.1 L1820.0,951.1 L1822.0,951.1 L1824.0,951.0 L1826.0,951.0 L1828.0,951.0 L1830.0,951.0 L1832.0,951.0 L1834.0,950.9 L1836.0,950.9 L1838.0,950.9 L1840.0,950.9 L1842.0,950.9 L1844.0,950.8 L1846.0,950.8 L1848.0,950.8 L1850.0,950.8 L1852.0,950.8 L1854.0,950.8 L1856.0,950.7 L1858.0,950.7 L1860.0,950.7 L1862.0,950.7 L1864.0,950.7 L1866.0,950.6 L1868.0,950.6 L1870.0,950.6 L1872.0,950.6 L1874.0,950.6 L1876.0,950.6 L1878.0,950.5 L1880.0,950.5 L1882.0,950.5 L1884.0,950.5 L1886.0,950.5 L1888.0,950.4 L1890.0,950.4 L1892.0,950.4 L1894.0,950.4 L1896.0,950.4 L1898.0,950.4 L1900.0,950.3 L1902.0,950.3 L1904.0,950.3 L1906.0,950.3 L1908.0,950.3 L1910.0,950.2 L1912.0,950.2 L1914.0,950.2 L1916.0,950.2 L1918.0,950.2 L1920.0,950.1 L1922.0,950.1 L1924.0,950.1 L1926.0,950.1 L1928.0,950.1 L1930.0,950.1 L1932.0,950.0 L1934.0,950.0 L1936.0,950.0 L1938.0,950.0 L1940.0,950.0 L1942.0,949.9 L1944.0,949.9 L1946.0,949.9 L1948.0,949.9 L1950.0,949.9 L1952.0,949.8 L1954.0,949.8 L1956.0,949.8 L1958.0,949.8 L1960.0,949.8 L1962.0,949.7 L1964.0,949.7 L1966.0,949.7 L1968.0,949.7 L1970.0,949.7 L1972.0,949.6 L1974.0,949.6 L1976.0,949.6 L1978.0,949.6 L1980.0,949.6 L1982.0,949.5 L1984.0,949.5 L1986.0,949.5 L1988.0,949.5 L1990.0,949.4 L1992.0,949.4 L1994.0,949.4 L1996.0,949.4 L1998.0,949.4 L2000.0,949.3 L2002.0,949.3 L2004.0,949.3 L2006.0,949.3 L2008.0,949.2 L2010.0,949.2 L2012.0,949.2 L2014.0,949.2 L2016.0,949.1 L2018.0,949.1 L2020.0,949.1 L2022.0,949.1 L2024.0,949.1 L2026.0,949.0 L2028.0,949.0 L2030.0,949.0 L2032.0,949.0 L2034.0,948.9 L2036.0,948.9 L2038.0,948.9 L2040.0,948.8 L2042.0,948.8 L2044.0,948.8 L2046.0,948.8 L2048.0,948.7 L2050.0,948.7 L2052.0,948.7 L2054.0,948.7 L2056.0,948.6 L2058.0,948.6 L2060.0,948.6 L2062.0,948.5 L2064.0,948.5 L2066.0,948.5 L2068.0,948.5 L2070.0,948.4 L2072.0,948.4 L2074.0,948.4 L2076.0,948.3 L2078.0,948.3 L2080.0,948.3 L2082.0,948.2 L2084.0,948.2 L2086.0,948.2 L2088.0,948.1 L2090.0,948.1 L2092.0,948.1 L2094.0,948.0 L2096.0,948.0 L2098.0,948.0 L2100.0,947.9 L2102.0,947.9 L2104.0,947.9 L2106.0,947.8 L2108.0,947.8 L2110.0,947.8 L2112.0,947.7 L2114.0,947.7 L2116.0,947.7 L2118.0,947.6 L2120.0,947.6 L2122.0,947.6 L2124.0,947.5 L2126.0,947.5 L2128.0,947.4 L2130.0,947.4 L2132.0,947.4 L2134.0,947.3 L2136.0,947.3 L2138.0,947.3 L2140.0,947.2"/>
<path d="M276.0,1464.6 L278.0,1464.3 L280.0,1464.2 L282.0,1463.9 L284.0,1463.7 L286.0,1463.4 L288.0,1463.1 L290.0,1462.8 L292.0,1462.4 L294.0,1462.0 L296.0,1461.6 L298.0,1461.2 L300.0,1460.7 L302.0,1460.2 L304.0,1459.7 L306.0,1459.1 L308.0,1458.6 L310.0,1458.0 L312.0,1457.3 L314.0,1456.7 L316.0,1456.0 L318.0,1455.2 L320.0,1454.5 L322.0,1453.7 L324.0,1452.9 L326.0,1452.1 L328.0,1451.2 L330.0,1450.3 L332.0,1449.4 L334.0,1448.4 L336.0,1447.4 L338.0,1446.4 L340.0,1445.3 L342.0,1444.2 L344.0,1443.1 L346.0,1442.0 L348.0,1440.8 L350.0,1439.6 L352.0,1438.3 L354.0,1437.0 L356.0,1435.7 L358.0,1434.4 L360.0,1433.0 L362.0,1431.6 L364.0,1430.1 L366.0,1428.6 L368.0,1427.1 L370.0,1425.6 L372.0,1424.0 L374.0,1422.3 L376.0,1420.7 L378.0,1419.0 L380.0,1417.2 L382.0,1415.5 L384.0,1413.7 L386.0,1411.8 L388.0,1409.9 L390.0,1408.0 L392.0,1406.1 L394.0,1404.2 L396.0,1402.4 L398.0,1400.7 L400.0,1399.1 L402.0,1397.5 L404.0,1396.0 L406.0,1394.5 L408.0,1393.0 L410.0,1391.5 L412.0,1390.0 L414.0,1388.5 L416.0,1387.1 L418.0,1385.6 L420.0,1384.1 L422.0,1382.7 L424.0,1381.2 L426.0,1379.8 L428.0,1378.3 L430.0,1376.9 L432.0,1375.5 L434.0,1374.1 L436.0,1372.7 L438.0,1371.3 L440.0,1369.9 L442.0,1368.5 L444.0,1367.1 L446.0,1365.7 L448.0,1364.4 L450.0,1363.0 L452.0,1361.7 L454.0,1360.3 L456.0,1359.0 L458.0,1357.7 L460.0,1356.3 L462.0,1355.0 L464.0,1353.7 L466.0,1352.4 L468.0,1351.1 L470.0,1349.9 L472.0,1348.6 L474.0,1347.3 L476.0,1346.1 L478.0,1344.8 L480.0,1343.6 L482.0,1342.4 L484.0,1341.1 L486.0,1339.9 L488.0,1338.7 L490.0,1337.5 L492.0,1336.3 L494.0,1335.2 L496.0,1334.0 L498.0,1332.8 L500.0,1331.7 L502.0,1330.5 L504.0,1329.4 L506.0,1328.3 L508.0,1327.2 L510.0,1326.1 L512.0,1325.0 L514.0,1323.9 L516.0,1322.8 L518.0,1321.8 L520.0,1320.7 L522.0,1319.6 L524.0,1318.6 L526.0,1317.6 L528.0,1316.6 L530.0,1315.5 L532.0,1314.5 L534.0,1313.5 L536.0,1312.6 L538.0,1311.6 L540.0,1310.6 L542.0,1309.6 L544.0,1308.7 L546.0,1307.7 L548.0,1306.8 L550.0,1305.8 L552.0,1304.9 L554.0,1304.0 L556.0,1303.1 L558.0,1302.2 L560.0,1301.3 L562.0,1300.4 L564.0,1299.5 L566.0,1298.6 L568.0,1297.7 L570.0,1296.8 L572.0,1295.9 L574.0,1295.1 L576.0,1294.2 L578.0,1293.3 L580.0,1292.5 L582.0,1291.6 L584.0,1290.8 L586.0,1289.9 L588.0,1289.1 L590.0,1288.2 L592.0,1287.4 L594.0,1286.6 L596.0,1285.7 L598.0,1284.9 L600.0,1284.1 L602.0,1283.2 L604.0,1282.4 L606.0,1281.6 L608.0,1280.7 L610.0,1279.9 L612.0,1279.1 L614.0,1278.3 L616.0,1277.5 L618.0,1276.6 L620.0,1275.8 L622.0,1275.0 L624.0,1274.2 L626.0,1273.3 L628.0,1272.5 L630.0,1271.7 L632.0,1270.9 L634.0,1270.0 L636.0,1269.2 L638.0,1268.4 L640.0,1267.5 L642.0,1266.7 L644.0,1265.9 L646.0,1265.0 L648.0,1264.2 L650.0,1263.3 L652.0,1262.5 L654.0,1261.6 L656.0,1260.8 L658.0,1259.9 L660.0,1259.1 L662.0,1258.2 L664.0,1257.4 L666.0,1256.5 L668.0,1255.6 L670.0,1254.8 L672.0,1253.9 L674.0,1253.0 L676.0,1252.2 L678.0,1251.3 L680.0,1250.4 L682.0,1249.5 L684.0,1248.7 L686.0,1247.8 L688.0,1246.9 L690.0,1246.0 L692.0,1245.1 L694.0,1244.3 L696.0,1243.4 L698.0,1242.5 L700.0,1241.6 L702.0,1240.7 L704.0,1239.8 L706.0,1238.9 L708.0,1238.1 L710.0,1237.2 L712.0,1236.3 L714.0,1235.4 L716.0,1234.5 L718.0,1233.6 L720.0,1232.7 L722.0,1231.9 L724.0,1231.0 L726.0,1230.1 L728.0,1229.2 L730.0,1228.3 L732.0,1227.4 L734.0,1226.5 L736.0,1225.7 L738.0,1224.8 L740.0,1223.9 L742.0,1223.0 L744.0,1222.1 L746.0,1221.3 L748.0,1220.4 L750.0,1219.5 L752.0,1218.6 L754.0,1217.8 L756.0,1216.9 L758.0,1216.0 L760.0,1215.2 L762.0,1214.3 L764.0,1213.4 L766.0,1212.6 L768.0,1211.7 L770.0,1210.9 L772.0,1210.0 L774.0,1209.1 L776.0,1208.3 L778.0,1207.4 L780.0,1206.6 L782.0,1205.7 L784.0,1204.9 L786.0,1204.1 L788.0,1203.2 L790.0,1202.4 L792.0,1201.6 L794.0,1200.7 L796.0,1199.9 L798.0,1199.1 L800.0,1198.3 L802.0,1197.5 L804.0,1196.6 L806.0,1195.8 L808.0,1195.0 L810.0,1194.2 L812.0,1193.4 L814.0,1192.6 L816.0,1191.9 L818.0,1191.1 L820.0,1190.3 L822.0,1189.5 L824.0,1188.7 L826.0,1188.0 L828.0,1187.2 L830.0,1186.4 L832.0,1185.7 L834.0,1184.9 L836.0,1184.2 L838.0,1183.4 L840.0,1182.7 L842.0,1182.0 L844.0,1181.2 L846.0,1180.5 L848.0,1179.8 L850.0,1179.1 L852.0,1178.4 L854.0,1177.7 L856.0,1177.0 L858.0,1176.3 L860.0,1175.6 L862.0,1174.9 L864.0,1174.2 L866.0,1173.5 L868.0,1172.9 L870.0,1172.2 L872.0,1171.5 L874.0,1170.9 L876.0,1170.2 L878.0,1169.6 L880.0,1168.9 L882.0,1168.3 L884.0,1167.7 L886.0,1167.0 L888.0,1166.4 L890.0,1165.8 L892.0,1165.2 L894.0,1164.6 L896.0,1164.0 L898.0,1163.4 L900.0,1162.8 L902.0,1162.2 L904.0,1161.6 L906.0,1161.0 L908.0,1160.4 L910.0,1159.9 L912.0,1159.3 L914.0,1158.7 L916.0,1158.2 L918.0,1157.6 L920.0,1157.1 L922.0,1156.5 L924.0,1156.0 L926.0,1155.5 L928.0,1154.9 L930.0,1154.4 L932.0,1153.9 L934.0,1153.4 L936.0,1152.8 L938.0,1152.3 L940.0,1151.8 L942.0,1151.3 L944.0,1150.8 L946.0,1150.3 L948.0,1149.8 L950.0,1149.4 L952.0,1148.9 L954.0,1148.4 L956.0,1147.9 L958.0,1147.5 L960.0,1147.0 L962.0,1146.5 L964.0,1146.1 L966.0,1145.6 L968.0,1145.2 L970.0,1144.7 L972.0,1144.3 L974.0,1143.8 L976.0,1143.4 L978.0,1143.0 L980.0,1142.5 L982.0,1142.1 L984.0,1141.7 L986.0,1141.3 L988.0,1140.9 L990.0,1140.5 L992.0,1140.1 L994.0,1139.7 L996.0,1139.3 L998.0,1138.9 L1000.0,1138.5 L1002.0,1138.1 L1004.0,1137.7 L1006.0,1137.3 L1008.0,1136.9 L1010.0,1136.6 L1012.0,1136.2 L1014.0,1135.8 L1016.0,1135.5 L1018.0,1135.1 L1020.0,1134.7 L1022.0,1134.4 L1024.0,1134.0 L1026.0,1133.7 L1028.0,1133.3 L1030.0,1133.0 L1032.0,1132.7 L1034.0,1132.3 L1036.0,1132.0 L1038.0,1131.7 L1040.0,1131.3 L1042.0,1131.0 L1044.0,1130.7 L1046.0,1130.4 L1048.0,1130.1 L1050.0,1129.8 L1052.0,1129.4 L1054.0,1129.1 L1056.0,1128.8 L1058.0,1128.5 L1060.0,1128.2 L1062.0,1127.9 L1064.0,1127.6 L1066.0,1127.4 L1068.0,1127.1 L1070.0,1126.8 L1072.0,1126.5 L1074.0,1126.2 L1076.0,1126.0 L1078.0,1125.7 L1080.0,1125.4 L1082.0,1125.1 L1084.0,1124.9 L1086.0,1124.6 L1088.0,1124.4 L1090.0,1124.1 L1092.0,1123.8 L1094.0,1123.6 L1096.0,1123.3 L1098.0,1123.1 L1100.0,1122.8 L1102.0,1122.6 L1104.0,1122.4 L1106.0,1122.1 L1108.0,1121.9 L1110.0,1121.6 L1112.0,1121.4 L1114.0,1121.2 L1116.0,1121.0 L1118.0,1120.7 L1120.0,1120.5 L1122.0,1120.3 L1124.0,1120.1 L1126.0,1119.8 L1128.0,1119.6 L1130.0,1119.4 L1132.0,1119.2 L1134.0,1119.0 L1136.0,1118.8 L1138.0,1118.6 L1140.0,1118.4 L1142.0,1118.2 L1144.0,1118.0 L1146.0,1117.8 L1148.0,1117.6 L1150.0,1117.4 L1152.0,1117.2 L1154.0,1117.0 L1156.0,1116.8 L1158.0,1116.6 L1160.0,1116.4 L1162.0,1116.3 L1164.0,1116.1 L1166.0,1115.9 L1168.0,1115.7 L1170.0,1115.5 L1172.0,1115.4 L1174.0,1115.2 L1176.0,1115.0 L1178.0,1114.8 L1180.0,1114.7 L1182.0,1114.5 L1184.0,1114.3 L1186.0,1114.2 L1188.0,1114.0 L1190.0,1113.8 L1192.0,1113.7 L1194.0,1113.5 L1196.0,1113.3 L1198.0,1113.2 L1200.0,1113.0 L1202.0,1112.9 L1204.0,1112.7 L1206.0,1112.6 L1208.0,1112.4 L1210.0,1112.3 L1212.0,1112.1 L1214.0,1112.0 L1216.0,1111.8 L1218.0,1111.7 L1220.0,1111.5 L1222.0,1111.4 L1224.0,1111.2 L1226.0,1111.1 L1228.0,1110.9 L1230.0,1110.8 L1232.0,1110.7 L1234.0,1110.5 L1236.0,1110.4 L1238.0,1110.2 L1240.0,1110.1 L1242.0,1110.0 L1244.0,1109.8 L1246.0,1109.7 L1248.0,1109.6 L1250.0,1109.4 L1252.0,1109.3 L1254.0,1109.1 L1256.0,1109.0 L1258.0,1108.9 L1260.0,1108.8 L1262.0,1108.6 L1264.0,1108.5 L1266.0,1108.4 L1268.0,1108.2 L1270.0,1108.1 L1272.0,1108.0 L1274.0,1107.8 L1276.0,1107.7 L1278.0,1107.6 L1280.0,1107.5 L1282.0,1107.3 L1284.0,1107.2 L1286.0,1107.1 L1288.0,1106.9 L1290.0,1106.8 L1292.0,1106.7 L1294.0,1106.6 L1296.0,1106.4 L1298.0,1106.3 L1300.0,1106.2 L1302.0,1106.1 L1304.0,1105.9 L1306.0,1105.8 L1308.0,1105.7 L1310.0,1105.6 L1312.0,1105.4 L1314.0,1105.3 L1316.0,1105.2 L1318.0,1105.1 L1320.0,1105.0 L1322.0,1104.8 L1324.0,1104.7 L1326.0,1104.6 L1328.0,1104.5 L1330.0,1104.4 L1332.0,1104.2 L1334.0,1104.1 L1336.0,1104.0 L1338.0,1103.9 L1340.0,1103.8 L1342.0,1103.6 L1344.0,1103.5 L1346.0,1103.4 L1348.0,1103.3 L1350.0,1103.2 L1352.0,1103.0 L1354.0,1102.9 L1356.0,1102.8 L1358.0,1102.7 L1360.0,1102.6 L1362.0,1102.5 L1364.0,1102.3 L1366.0,1102.2 L1368.0,1102.1 L1370.0,1102.0 L1372.0,1101.9 L1374.0,1101.8 L1376.0,1101.7 L1378.0,1101.5 L1380.0,1101.4 L1382.0,1101.3 L1384.0,1101.2 L1386.0,1101.1 L1388.0,1101.0 L1390.0,1100.9 L1392.0,1100.8 L1394.0,1100.6 L1396.0,1100.5 L1398.0,1100.4 L1400.0,1100.3 L1402.0,1100.2 L1404.0,1100.1 L1406.0,1100.0 L1408.0,1099.9 L1410.0,1099.8 L1412.0,1099.6 L1414.0,1099.5 L1416.0,1099.4 L1418.0,1099.3 L1420.0,1099.2 L1422.0,1099.1 L1424.0,1099.0 L1426.0,1098.9 L1428.0,1098.8 L1430.0,1098.7 L1432.0,1098.6 L1434.0,1098.4 L1436.0,1098.3 L1438.0,1098.2 L1440.0,1098.1 L1442.0,1098.0 L1444.0,1097.9 L1446.0,1097.8 L1448.0,1097.7 L1450.0,1097.6 L1452.0,1097.5 L1454.0,1097.4 L1456.0,1097.3 L1458.0,1097.2 L1460.0,1097.1 L1462.0,1097.0 L1464.0,1096.9 L1466.0,1096.8 L1468.0,1096.7 L1470.0,1096.5 L1472.0,1096.4 L1474.0,1096.3 L1476.0,1096.2 L1478.0,1096.1 L1480.0,1096.0 L1482.0,1095.9 L1484.0,1095.8 L1486.0,1095.7 L1488.0,1095.6 L1490.0,1095.5 L1492.0,1095.4 L1494.0,1095.3 L1496.0,1095.2 L1498.0,1095.1 L1500.0,1095.0 L1502.0,1094.9 L1504.0,1094.8 L1506.0,1094.7 L1508.0,1094.6 L1510.0,1094.5 L1512.0,1094.4 L1514.0,1094.3 L1516.0,1094.2 L1518.0,1094.1 L1520.0,1094.0 L1522.0,1093.9 L1524.0,1093.8 L1526.0,1093.7 L1528.0,1093.6 L1530.0,1093.5 L1532.0,1093.4 L1534.0,1093.3 L1536.0,1093.2 L1538.0,1093.1 L1540.0,1093.0 L1542.0,1092.9 L1544.0,1092.8 L1546.0,1092.7 L1548.0,1092.6 L1550.0,1092.5 L1552.0,1092.5 L1554.0,1092.4 L1556.0,1092.3 L1558.0,1092.2 L1560.0,1092.1 L1562.0,1092.0 L1564.0,1091.9 L1566.0,1091.8 L1568.0,1091.7 L1570.0,1091.6 L1572.0,1091.5 L1574.0,1091.4 L1576.0,1091.3 L1578.0,1091.2 L1580.0,1091.1 L1582.0,1091.0 L1584.0,1090.9 L1586.0,1090.8 L1588.0,1090.7 L1590.0,1090.6 L1592.0,1090.5 L1594.0,1090.5 L1596.0,1090.4 L1598.0,1090.3 L1600.0,1090.2 L1602.0,1090.1 L1604.0,1090.0 L1606.0,1089.9 L1608.0,1089.8 L1610.0,1089.7 L1612.0,1089.6 L1614.0,1089.5 L1616.0,1089.4 L1618.0,1089.3 L1620.0,1089.2 L1622.0,1089.2 L1624.0,1089.1 L1626.0,1089.0 L1628.0,1088.9 L1630.0,1088.8 L1632.0,1088.7 L1634.0,1088.6 L1636.0,1088.5 L1638.0,1088.4 L1640.0,1088.3 L1642.0,1088.2 L1644.0,1088.1 L1646.0,1088.0 L1648.0,1088.0 L1650.0,1087.9 L1652.0,1087.8 L1654.0,1087.7 L1656.0,1087.6 L1658.0,1087.5 L1660.0,1087.4 L1662.0,1087.3 L1664.0,1087.2 L1666.0,1087.1 L1668.0,1087.1 L1670.0,1087.0 L1672.0,1086.9 L1674.0,1086.8 L1676.0,1086.7 L1678.0,1086.6 L1680.0,1086.5 L1682.0,1086.4 L1684.0,1086.3 L1686.0,1086.2 L1688.0,1086.2 L1690.0,1086.1 L1692.0,1086.0 L1694.0,1085.9 L1696.0,1085.8 L1698.0,1085.7 L1700.0,1085.6 L1702.0,1085.5 L1704.0,1085.4 L1706.0,1085.3 L1708.0,1085.3 L1710.0,1085.2 L1712.0,1085.1 L1714.0,1085.0 L1716.0,1084.9 L1718.0,1084.8 L1720.0,1084.7 L1722.0,1084.6 L1724.0,1084.5 L1726.0,1084.5 L1728.0,1084.4 L1730.0,1084.3 L1732.0,1084.2 L1734.0,1084.1 L1736.0,1084.0 L1738.0,1083.9 L1740.0,1083.8 L1742.0,1083.7 L1744.0,1083.7 L1746.0,1083.6 L1748.0,1083.5 L1750.0,1083.4 L1752.0,1083.3 L1754.0,1083.2 L1756.0,1083.1 L1758.0,1083.0 L1760.0,1083.0 L1762.0,1082.9 L1764.0,1082.8 L1766.0,1082.7 L1768.0,1082.6 L1770.0,1082.5 L1772.0,1082.4 L1774.0,1082.3 L1776.0,1082.2 L1778.0,1082.2 L1780.0,1082.1 L1782.0,1082.0 L1784.0,1081.9 L1786.0,1081.8 L1788.0,1081.7 L1790.0,1081.6 L1792.0,1081.5 L1794.0,1081.5 L1796.0,1081.4 L1798.0,1081.3 L1800.0,1081.2 L1802.0,1081.1 L1804.0,1081.0 L1806.0,1080.9 L1808.0,1080.8 L1810.0,1080.7 L1812.0,1080.7 L1814.0,1080.6 L1816.0,1080.5 L1818.0,1080.4 L1820.0,1080.3 L1822.0,1080.2 L1824.0,1080.1 L1826.0,1080.0 L1828.0,1079.9 L1830.0,1079.9 L1832.0,1079.8 L1834.0,1079.7 L1836.0,1079.6 L1838.0,1079.5 L1840.0,1079.4 L1842.0,1079.3 L1844.0,1079.2 L1846.0,1079.2 L1848.0,1079.1 L1850.0,1079.0 L1852.0,1078.9 L1854.0,1078.8 L1856.0,1078.7 L1858.0,1078.6 L1860.0,1078.5 L1862.0,1078.4 L1864.0,1078.3 L1866.0,1078.3 L1868.0,1078.2 L1870.0,1078.1 L1872.0,1078.0 L1874.0,1077.9 L1876.0,1077.8 L1878.0,1077.7 L1880.0,1077.6 L1882.0,1077.5 L1884.0,1077.5 L1886.0,1077.4 L1888.0,1077.3 L1890.0,1077.2 L1892.0,1077.1 L1894.0,1077.0 L1896.0,1076.9 L1898.0,1076.8 L1900.0,1076.7 L1902.0,1076.6 L1904.0,1076.6 L1906.0,1076.5 L1908.0,1076.4 L1910.0,1076.3 L1912.0,1076.2 L1914.0,1076.1 L1916.0,1076.0 L1918.0,1075.9 L1920.0,1075.8 L1922.0,1075.7 L1924.0,1075.6 L1926.0,1075.6 L1928.0,1075.5 L1930.0,1075.4 L1932.0,1075.3 L1934.0,1075.2 L1936.0,1075.1 L1938.0,1075.0 L1940.0,1074.9 L1942.0,1074.8 L1944.0,1074.7 L1946.0,1074.6 L1948.0,1074.5 L1950.0,1074.4 L1952.0,1074.4 L1954.0,1074.3 L1956.0,1074.2 L1958.0,1074.1 L1960.0,1074.0 L1962.0,1073.9 L1964.0,1073.8 L1966.0,1073.7 L1968.0,1073.6 L1970.0,1073.5 L1972.0,1073.4 L1974.0,1073.3 L1976.0,1073.2 L1978.0,1073.1 L1980.0,1073.0 L1982.0,1073.0 L1984.0,1072.9 L1986.0,1072.8 L1988.0,1072.7 L1990.0,1072.6 L1992.0,1072.5 L1994.0,1072.4 L1996.0,1072.3 L1998.0,1072.2 L2000.0,1072.1 L2002.0,1072.0 L2004.0,1071.9 L2006.0,1071.8 L2008.0,1071.7 L2010.0,1071.6 L2012.0,1071.5 L2014.0,1071.4 L2016.0,1071.3 L2018.0,1071.2 L2020.0,1071.1 L2022.0,1071.0 L2024.0,1070.9 L2026.0,1070.8 L2028.0,1070.7 L2030.0,1070.6 L2032.0,1070.5 L2034.0,1070.4 L2036.0,1070.4 L2038.0,1070.3 L2040.0,1070.2 L2042.0,1070.1 L2044.0,1070.0 L2046.0,1069.9 L2048.0,1069.8 L2050.0,1069.7 L2052.0,1069.6 L2054.0,1069.5 L2056.0,1069.4 L2058.0,1069.3 L2060.0,1069.2 L2062.0,1069.1 L2064.0,1069.0 L2066.0,1068.9 L2068.0,1068.8 L2070.0,1068.7 L2072.0,1068.6 L2074.0,1068.5 L2076.0,1068.4 L2078.0,1068.3 L2080.0,1068.1 L2082.0,1068.0 L2084.0,1067.9 L2086.0,1067.8 L2088.0,1067.7 L2090.0,1067.6 L2092.0,1067.5 L2094.0,1067.4 L2096.0,1067.3 L2098.0,1067.2 L2100.0,1067.1 L2102.0,1067.0 L2104.0,1066.9 L2106.0,1066.8 L2108.0,1066.7 L2110.0,1066.6 L2112.0,1066.5 L2114.0,1066.4 L2116.0,1066.3 L2118.0,1066.2 L2120.0,1066.1 L2122.0,1066.0 L2124.0,1065.9 L2126.0,1065.8 L2128.0,1065.6 L2130.0,1065.5 L2132.0,1065.4 L2134.0,1065.3 L2136.0,1065.2 L2138.0,1065.1 L2140.0,1065.0"/>
<path d="M276.0,1464.6 L278.0,1464.3 L280.0,1464.2 L282.0,1463.9 L284.0,1463.7 L286.0,1463.4 L288.0,1463.1 L290.0,1462.8 L292.0,1462.5 L294.0,1462.1 L296.0,1461.7 L298.0,1461.3 L300.0,1460.9 L302.0,1460.4 L304.0,1459.9 L306.0,1459.4 L308.0,1458.8 L310.0,1458.2 L312.0,1457.6 L314.0,1457.0 L316.0,1456.3 L318.0,1455.6 L320.0,1454.8 L322.0,1454.0 L324.0,1453.2 L326.0,1452.3 L328.0,1451.4 L330.0,1450.5 L332.0,1449.5 L334.0,1448.5 L336.0,1447.4 L338.0,1446.3 L340.0,1445.1 L342.0,1444.0 L344.0,1442.9 L346.0,1441.8 L348.0,1440.8 L350.0,1439.9 L352.0,1439.0 L354.0,1438.1 L356.0,1437.2 L358.0,1436.3 L360.0,1435.4 L362.0,1434.6 L364.0,1433.7 L366.0,1432.8 L368.0,1431.9 L370.0,1431.1 L372.0,1430.2 L374.0,1429.4 L376.0,1428.5 L378.0,1427.7 L380.0,1426.8 L382.0,1426.0 L384.0,1425.1 L386.0,1424.3 L388.0,1423.4 L390.0,1422.6 L392.0,1421.8 L394.0,1420.9 L396.0,1420.1 L398.0,1419.3 L400.0,1418.5 L402.0,1417.7 L404.0,1416.8 L406.0,1416.0 L408.0,1415.2 L410.0,1414.4 L412.0,1413.6 L414.0,1412.8 L416.0,1412.0 L418.0,1411.2 L420.0,1410.5 L422.0,1409.7 L424.0,1408.9 L426.0,1408.1 L428.0,1407.3 L430.0,1406.6 L432.0,1405.8 L434.0,1405.0 L436.0,1404.3 L438.0,1403.5 L440.0,1402.7 L442.0,1402.0 L444.0,1401.2 L446.0,1400.5 L448.0,1399.7 L450.0,1399.0 L452.0,1398.3 L454.0,1397.5 L456.0,1396.8 L458.0,1396.0 L460.0,1395.3 L462.0,1394.6 L464.0,1393.9 L466.0,1393.2 L468.0,1392.4 L470.0,1391.7 L472.0,1391.0 L474.0,1390.3 L476.0,1389.6 L478.0,1388.9 L480.0,1388.2 L482.0,1387.5 L484.0,1386.8 L486.0,1386.1 L488.0,1385.4 L490.0,1384.8 L492.0,1384.1 L494.0,1383.4 L496.0,1382.7 L498.0,1382.0 L500.0,1381.4 L502.0,1380.7 L504.0,1380.1 L506.0,1379.4 L508.0,1378.7 L510.0,1378.1 L512.0,1377.4 L514.0,1376.8 L516.0,1376.2 L518.0,1375.5 L520.0,1374.9 L522.0,1374.2 L524.0,1373.6 L526.0,1373.0 L528.0,1372.4 L530.0,1371.7 L532.0,1371.1 L534.0,1370.5 L536.0,1369.9 L538.0,1369.3 L540.0,1368.6 L542.0,1368.0 L544.0,1367.4 L546.0,1366.8 L548.0,1366.2 L550.0,1365.6 L552.0,1365.0 L554.0,1364.5 L556.0,1363.9 L558.0,1363.3 L560.0,1362.7 L562.0,1362.1 L564.0,1361.5 L566.0,1361.0 L568.0,1360.4 L570.0,1359.8 L572.0,1359.3 L574.0,1358.7 L576.0,1358.1 L578.0,1357.6 L580.0,1357.0 L582.0,1356.5 L584.0,1355.9 L586.0,1355.4 L588.0,1354.8 L590.0,1354.3 L592.0,1353.7 L594.0,1353.2 L596.0,1352.7 L598.0,1352.1 L600.0,1351.6 L602.0,1351.1 L604.0,1350.5 L606.0,1350.0 L608.0,1349.5 L610.0,1349.0 L612.0,1348.5 L614.0,1348.0 L616.0,1347.4 L618.0,1346.9 L620.0,1346.4 L622.0,1345.9 L624.0,1345.4 L626.0,1344.9 L628.0,1344.4 L630.0,1343.9 L632.0,1343.4 L634.0,1342.9 L636.0,1342.5 L638.0,1342.0 L640.0,1341.5 L642.0,1341.0 L644.0,1340.5 L646.0,1340.0 L648.0,1339.6 L650.0,1339.1 L652.0,1338.6 L654.0,1338.1 L656.0,1337.7 L658.0,1337.2 L660.0,1336.7 L662.0,1336.3 L664.0,1335.8 L666.0,1335.3 L668.0,1334.9 L670.0,1334.4 L672.0,1334.0 L674.0,1333.5 L676.0,1333.1 L678.0,1332.6 L680.0,1332.2 L682.0,1331.7 L684.0,1331.3 L686.0,1330.8 L688.0,1330.4 L690.0,1329.9 L692.0,1329.5 L694.0,1329.1 L696.0,1328.6 L698.0,1328.2 L700.0,1327.7 L702.0,1327.3 L704.0,1326.9 L706.0,1326.5 L708.0,1326.0 L710.0,1325.6 L712.0,1325.2 L714.0,1324.7 L716.0,1324.3 L718.0,1323.9 L720.0,1323.5 L722.0,1323.0 L724.0,1322.6 L726.0,1322.2 L728.0,1321.8 L730.0,1321.4 L732.0,1321.0 L734.0,1320.5 L736.0,1320.1 L738.0,1319.7 L740.0,1319.3 L742.0,1318.9 L744.0,1318.5 L746.0,1318.1 L748.0,1317.7 L750.0,1317.2 L752.0,1316.8 L754.0,1316.4 L756.0,1316.0 L758.0,1315.6 L760.0,1315.2 L762.0,1314.8 L764.0,1314.4 L766.0,1314.0 L768.0,1313.6 L770.0,1313.2 L772.0,1312.8 L774.0,1312.4 L776.0,1312.0 L778.0,1311.6 L780.0,1311.3 L782.0,1310.9 L784.0,1310.5 L786.0,1310.1 L788.0,1309.7 L790.0,1309.3 L792.0,1308.9 L794.0,1308.6 L796.0,1308.2 L798.0,1307.8 L800.0,1307.4 L802.0,1307.0 L804.0,1306.7 L806.0,1306.3 L808.0,1305.9 L810.0,1305.5 L812.0,1305.2 L814.0,1304.8 L816.0,1304.4 L818.0,1304.1 L820.0,1303.7 L822.0,1303.3 L824.0,1303.0 L826.0,1302.6 L828.0,1302.2 L830.0,1301.9 L832.0,1301.5 L834.0,1301.2 L836.0,1300.8 L838.0,1300.5 L840.0,1300.1 L842.0,1299.8 L844.0,1299.4 L846.0,1299.1 L848.0,1298.7 L850.0,1298.4 L852.0,1298.0 L854.0,1297.7 L856.0,1297.3 L858.0,1297.0 L860.0,1296.7 L862.0,1296.3 L864.0,1296.0 L866.0,1295.7 L868.0,1295.3 L870.0,1295.0 L872.0,1294.7 L874.0,1294.3 L876.0,1294.0 L878.0,1293.7 L880.0,1293.3 L882.0,1293.0 L884.0,1292.7 L886.0,1292.4 L888.0,1292.1 L890.0,1291.8 L892.0,1291.4 L894.0,1291.1 L896.0,1290.8 L898.0,1290.5 L900.0,1290.2 L902.0,1289.9 L904.0,1289.6 L906.0,1289.3 L908.0,1289.0 L910.0,1288.7 L912.0,1288.4 L914.0,1288.1 L916.0,1287.8 L918.0,1287.5 L920.0,1287.2 L922.0,1286.9 L924.0,1286.7 L926.0,1286.4 L928.0,1286.1 L930.0,1285.8 L932.0,1285.5 L934.0,1285.3 L936.0,1285.0 L938.0,1284.7 L940.0,1284.4 L942.0,1284.2 L944.0,1283.9 L946.0,1283.6 L948.0,1283.4 L950.0,1283.1 L952.0,1282.9 L954.0,1282.6 L956.0,1282.3 L958.0,1282.1 L960.0,1281.8 L962.0,1281.6 L964.0,1281.3 L966.0,1281.1 L968.0,1280.8 L970.0,1280.6 L972.0,1280.4 L974.0,1280.1 L976.0,1279.9 L978.0,1279.6 L980.0,1279.4 L982.0,1279.2 L984.0,1278.9 L986.0,1278.7 L988.0,1278.5 L990.0,1278.3 L992.0,1278.0 L994.0,1277.8 L996.0,1277.6 L998.0,1277.4 L1000.0,1277.1 L1002.0,1276.9 L1004.0,1276.7 L1006.0,1276.5 L1008.0,1276.3 L1010.0,1276.1 L1012.0,1275.8 L1014.0,1275.6 L1016.0,1275.4 L1018.0,1275.2 L1020.0,1275.0 L1022.0,1274.8 L1024.0,1274.6 L1026.0,1274.4 L1028.0,1274.2 L1030.0,1274.0 L1032.0,1273.8 L1034.0,1273.6 L1036.0,1273.4 L1038.0,1273.2 L1040.0,1273.0 L1042.0,1272.8 L1044.0,1272.7 L1046.0,1272.5 L1048.0,1272.3 L1050.0,1272.1 L1052.0,1271.9 L1054.0,1271.7 L1056.0,1271.6 L1058.0,1271.4 L1060.0,1271.2 L1062.0,1271.0 L1064.0,1270.8 L1066.0,1270.7 L1068.0,1270.5 L1070.0,1270.3 L1072.0,1270.1 L1074.0,1270.0 L1076.0,1269.8 L1078.0,1269.6 L1080.0,1269.5 L1082.0,1269.3 L1084.0,1269.1 L1086.0,1269.0 L1088.0,1268.8 L1090.0,1268.7 L1092.0,1268.5 L1094.0,1268.3 L1096.0,1268.2 L1098.0,1268.0 L1100.0,1267.9 L1102.0,1267.7 L1104.0,1267.6 L1106.0,1267.4 L1108.0,1267.3 L1110.0,1267.1 L1112.0,1267.0 L1114.0,1266.8 L1116.0,1266.7 L1118.0,1266.5 L1120.0,1266.4 L1122.0,1266.2 L1124.0,1266.1 L1126.0,1265.9 L1128.0,1265.8 L1130.0,1265.7 L1132.0,1265.5 L1134.0,1265.4 L1136.0,1265.2 L1138.0,1265.1 L1140.0,1265.0 L1142.0,1264.8 L1144.0,1264.7 L1146.0,1264.6 L1148.0,1264.4 L1150.0,1264.3 L1152.0,1264.2 L1154.0,1264.0 L1156.0,1263.9 L1158.0,1263.8 L1160.0,1263.6 L1162.0,1263.5 L1164.0,1263.4 L1166.0,1263.3 L1168.0,1263.1 L1170.0,1263.0 L1172.0,1262.9 L1174.0,1262.8 L1176.0,1262.6 L1178.0,1262.5 L1180.0,1262.4 L1182.0,1262.3 L1184.0,1262.1 L1186.0,1262.0 L1188.0,1261.9 L1190.0,1261.8 L1192.0,1261.7 L1194.0,1261.6 L1196.0,1261.4 L1198.0,1261.3 L1200.0,1261.2 L1202.0,1261.1 L1204.0,1261.0 L1206.0,1260.9 L1208.0,1260.8 L1210.0,1260.6 L1212.0,1260.5 L1214.0,1260.4 L1216.0,1260.3 L1218.0,1260.2 L1220.0,1260.1 L1222.0,1260.0 L1224.0,1259.9 L1226.0,1259.8 L1228.0,1259.6 L1230.0,1259.5 L1232.0,1259.4 L1234.0,1259.3 L1236.0,1259.2 L1238.0,1259.1 L1240.0,1259.0 L1242.0,1258.9 L1244.0,1258.8 L1246.0,1258.7 L1248.0,1258.6 L1250.0,1258.5 L1252.0,1258.4 L1254.0,1258.3 L1256.0,1258.2 L1258.0,1258.1 L1260.0,1258.0 L1262.0,1257.9 L1264.0,1257.8 L1266.0,1257.7 L1268.0,1257.6 L1270.0,1257.5 L1272.0,1257.3 L1274.0,1257.2 L1276.0,1257.1 L1278.0,1257.0 L1280.0,1256.9 L1282.0,1256.8 L1284.0,1256.7 L1286.0,1256.6 L1288.0,1256.5 L1290.0,1256.4 L1292.0,1256.3 L1294.0,1256.2 L1296.0,1256.1 L1298.0,1256.0 L1300.0,1255.9 L1302.0,1255.9 L1304.0,1255.8 L1306.0,1255.7 L1308.0,1255.6 L1310.0,1255.5 L1312.0,1255.4 L1314.0,1255.3 L1316.0,1255.2 L1318.0,1255.1 L1320.0,1255.0 L1322.0,1254.9 L1324.0,1254.8 L1326.0,1254.7 L1328.0,1254.6 L1330.0,1254.5 L1332.0,1254.4 L1334.0,1254.3 L1336.0,1254.2 L1338.0,1254.1 L1340.0,1254.0 L1342.0,1253.9 L1344.0,1253.8 L1346.0,1253.7 L1348.0,1253.6 L1350.0,1253.5 L1352.0,1253.4 L1354.0,1253.3 L1356.0,1253.2 L1358.0,1253.1 L1360.0,1253.0 L1362.0,1252.9 L1364.0,1252.8 L1366.0,1252.7 L1368.0,1252.6 L1370.0,1252.5 L1372.0,1252.4 L1374.0,1252.3 L1376.0,1252.2 L1378.0,1252.1 L1380.0,1252.0 L1382.0,1251.9 L1384.0,1251.8 L1386.0,1251.7 L1388.0,1251.6 L1390.0,1251.5 L1392.0,1251.4 L1394.0,1251.3 L1396.0,1251.2 L1398.0,1251.0 L1400.0,1250.9 L1402.0,1250.8 L1404.0,1250.7 L1406.0,1250.6 L1408.0,1250.5 L1410.0,1250.4 L1412.0,1250.3 L1414.0,1250.2 L1416.0,1250.1 L1418.0,1250.0 L1420.0,1249.9 L1422.0,1249.8 L1424.0,1249.7 L1426.0,1249.6 L1428.0,1249.5 L1430.0,1249.4 L1432.0,1249.3 L1434.0,1249.2 L1436.0,1249.1 L1438.0,1249.0 L1440.0,1248.9 L1442.0,1248.8 L1444.0,1248.7 L1446.0,1248.6 L1448.0,1248.5 L1450.0,1248.4 L1452.0,1248.3 L1454.0,1248.2 L1456.0,1248.1 L1458.0,1248.0 L1460.0,1247.9 L1462.0,1247.8 L1464.0,1247.7 L1466.0,1247.6 L1468.0,1247.4 L1470.0,1247.3 L1472.0,1247.2 L1474.0,1247.1 L1476.0,1247.0 L1478.0,1246.9 L1480.0,1246.8 L1482.0,1246.7 L1484.0,1246.6 L1486.0,1246.5 L1488.0,1246.4 L1490.0,1246.3 L1492.0,1246.2 L1494.0,1246.1 L1496.0,1246.0 L1498.0,1245.9 L1500.0,1245.8 L1502.0,1245.7 L1504.0,1245.6 L1506.0,1245.5 L1508.0,1245.4 L1510.0,1245.3 L1512.0,1245.2 L1514.0,1245.1 L1516.0,1245.0 L1518.0,1244.9 L1520.0,1244.8 L1522.0,1244.7 L1524.0,1244.6 L1526.0,1244.4 L1528.0,1244.3 L1530.0,1244.2 L1532.0,1244.1 L1534.0,1244.0 L1536.0,1243.9 L1538.0,1243.8 L1540.0,1243.7 L1542.0,1243.6 L1544.0,1243.5 L1546.0,1243.4 L1548.0,1243.3 L1550.0,1243.2 L1552.0,1243.1 L1554.0,1243.0 L1556.0,1242.9 L1558.0,1242.8 L1560.0,1242.7 L1562.0,1242.6 L1564.0,1242.5 L1566.0,1242.4 L1568.0,1242.3 L1570.0,1242.2 L1572.0,1242.1 L1574.0,1242.0 L1576.0,1241.9 L1578.0,1241.8 L1580.0,1241.7 L1582.0,1241.6 L1584.0,1241.5 L1586.0,1241.4 L1588.0,1241.3 L1590.0,1241.2 L1592.0,1241.1 L1594.0,1241.0 L1596.0,1240.9 L1598.0,1240.8 L1600.0,1240.6 L1602.0,1240.5 L1604.0,1240.4 L1606.0,1240.3 L1608.0,1240.2 L1610.0,1240.1 L1612.0,1240.0 L1614.0,1239.9 L1616.0,1239.8 L1618.0,1239.7 L1620.0,1239.6 L1622.0,1239.5 L1624.0,1239.4 L1626.0,1239.3 L1628.0,1239.2 L1630.0,1239.1 L1632.0,1239.0 L1634.0,1238.9 L1636.0,1238.8 L1638.0,1238.7 L1640.0,1238.6 L1642.0,1238.5 L1644.0,1238.4 L1646.0,1238.3 L1648.0,1238.2 L1650.0,1238.1 L1652.0,1238.0 L1654.0,1237.9 L1656.0,1237.8 L1658.0,1237.7 L1660.0,1237.6 L1662.0,1237.5 L1664.0,1237.4 L1666.0,1237.3 L1668.0,1237.2 L1670.0,1237.2 L1672.0,1237.1 L1674.0,1237.0 L1676.0,1236.9 L1678.0,1236.8 L1680.0,1236.7 L1682.0,1236.6 L1684.0,1236.5 L1686.0,1236.4 L1688.0,1236.3 L1690.0,1236.2 L1692.0,1236.1 L1694.0,1236.0 L1696.0,1235.9 L1698.0,1235.8 L1700.0,1235.7 L1702.0,1235.6 L1704.0,1235.5 L1706.0,1235.4 L1708.0,1235.3 L1710.0,1235.2 L1712.0,1235.1 L1714.0,1235.0 L1716.0,1234.9 L1718.0,1234.8 L1720.0,1234.7 L1722.0,1234.6 L1724.0,1234.6 L1726.0,1234.5 L1728.0,1234.4 L1730.0,1234.3 L1732.0,1234.2 L1734.0,1234.1 L1736.0,1234.0 L1738.0,1233.9 L1740.0,1233.8 L1742.0,1233.7 L1744.0,1233.6 L1746.0,1233.5 L1748.0,1233.4 L1750.0,1233.3 L1752.0,1233.3 L1754.0,1233.2 L1756.0,1233.1 L1758.0,1233.0 L1760.0,1232.9 L1762.0,1232.8 L1764.0,1232.7 L1766.0,1232.6 L1768.0,1232.5 L1770.0,1232.4 L1772.0,1232.3 L1774.0,1232.3 L1776.0,1232.2 L1778.0,1232.1 L1780.0,1232.0 L1782.0,1231.9 L1784.0,1231.8 L1786.0,1231.7 L1788.0,1231.6 L1790.0,1231.5 L1792.0,1231.5 L1794.0,1231.4 L1796.0,1231.3 L1798.0,1231.2 L1800.0,1231.1 L1802.0,1231.0 L1804.0,1230.9 L1806.0,1230.9 L1808.0,1230.8 L1810.0,1230.7 L1812.0,1230.6 L1814.0,1230.5 L1816.0,1230.4 L1818.0,1230.3 L1820.0,1230.3 L1822.0,1230.2 L1824.0,1230.1 L1826.0,1230.0 L1828.0,1229.9 L1830.0,1229.8 L1832.0,1229.8 L1834.0,1229.7 L1836.0,1229.6 L1838.0,1229.5 L1840.0,1229.4 L1842.0,1229.3 L1844.0,1229.3 L1846.0,1229.2 L1848.0,1229.1 L1850.0,1229.0 L1852.0,1228.9 L1854.0,1228.9 L1856.0,1228.8 L1858.0,1228.7 L1860.0,1228.6 L1862.0,1228.5 L1864.0,1228.5 L1866.0,1228.4 L1868.0,1228.3 L1870.0,1228.2 L1872.0,1228.1 L1874.0,1228.1 L1876.0,1228.0 L1878.0,1227.9 L1880.0,1227.8 L1882.0,1227.8 L1884.0,1227.7 L1886.0,1227.6 L1888.0,1227.5 L1890.0,1227.4 L1892.0,1227.4 L1894.0,1227.3 L1896.0,1227.2 L1898.0,1227.2 L1900.0,1227.1 L1902.0,1227.0 L1904.0,1226.9 L1906.0,1226.9 L1908.0,1226.8 L1910.0,1226.7 L1912.0,1226.6 L1914.0,1226.6 L1916.0,1226.5 L1918.0,1226.4 L1920.0,1226.4 L1922.0,1226.3 L1924.0,1226.2 L1926.0,1226.1 L1928.0,1226.1 L1930.0,1226.0 L1932.0,1225.9 L1934.0,1225.9 L1936.0,1225.8 L1938.0,1225.7 L1940.0,1225.7 L1942.0,1225.6 L1944.0,1225.5 L1946.0,1225.5 L1948.0,1225.4 L1950.0,1225.3 L1952.0,1225.3 L1954.0,1225.2 L1956.0,1225.1 L1958.0,1225.1 L1960.0,1225.0 L1962.0,1224.9 L1964.0,1224.9 L1966.0,1224.8 L1968.0,1224.7 L1970.0,1224.7 L1972.0,1224.6 L1974.0,1224.5 L1976.0,1224.5 L1978.0,1224.4 L1980.0,1224.4 L1982.0,1224.3 L1984.0,1224.2 L1986.0,1224.2 L1988.0,1224.1 L1990.0,1224.1 L1992.0,1224.0 L1994.0,1223.9 L1996.0,1223.9 L1998.0,1223.8 L2000.0,1223.8 L2002.0,1223.7 L2004.0,1223.7 L2006.0,1223.6 L2008.0,1223.5 L2010.0,1223.5 L2012.0,1223.4 L2014.0,1223.4 L2016.0,1223.3 L2018.0,1223.3 L2020.0,1223.2 L2022.0,1223.2 L2024.0,1223.1 L2026.0,1223.0 L2028.0,1223.0 L2030.0,1222.9 L2032.0,1222.9 L2034.0,1222.8 L2036.0,1222.8 L2038.0,1222.7 L2040.0,1222.7 L2042.0,1222.6 L2044.0,1222.6 L2046.0,1222.5 L2048.0,1222.5 L2050.0,1222.4 L2052.0,1222.4 L2054.0,1222.3 L2056.0,1222.3 L2058.0,1222.3 L2060.0,1222.2 L2062.0,1222.2 L2064.0,1222.1 L2066.0,1222.1 L2068.0,1222.0 L2070.0,1222.0 L2072.0,1221.9 L2074.0,1221.9 L2076.0,1221.9 L2078.0,1221.8 L2080.0,1221.8 L2082.0,1221.7 L2084.0,1221.7 L2086.0,1221.6 L2088.0,1221.6 L2090.0,1221.6 L2092.0,1221.5 L2094.0,1221.5 L2096.0,1221.4 L2098.0,1221.4 L2100.0,1221.4 L2102.0,1221.3 L2104.0,1221.3 L2106.0,1221.3 L2108.0,1221.2 L2110.0,1221.2 L2112.0,1221.1 L2114.0,1221.1 L2116.0,1221.1 L2118.0,1221.0 L2120.0,1221.0 L2122.0,1221.0 L2124.0,1220.9 L2126.0,1220.9 L2128.0,1220.9 L2130.0,1220.8 L2132.0,1220.8 L2134.0,1220.8 L2136.0,1220.8 L2138.0,1220.7 L2140.0,1220.7"/>
<path d="M276.0,1463.1 L278.0,1462.7 L280.0,1462.5 L282.0,1462.2 L284.0,1461.8 L286.0,1461.5 L288.0,1461.2 L290.0,1460.9 L292.0,1460.6 L294.0,1460.2 L296.0,1459.9 L298.0,1459.6 L300.0,1459.2 L302.0,1458.9 L304.0,1458.6 L306.0,1458.2 L308.0,1457.9 L310.0,1457.6 L312.0,1457.2 L314.0,1456.9 L316.0,1456.6 L318.0,1456.2 L320.0,1455.9 L322.0,1455.5 L324.0,1455.2 L326.0,1454.8 L328.0,1454.5 L330.0,1454.2 L332.0,1453.8 L334.0,1453.5 L336.0,1453.1 L338.0,1452.8 L340.0,1452.4 L342.0,1452.1 L344.0,1451.7 L346.0,1451.4 L348.0,1451.0 L350.0,1450.7 L352.0,1450.3 L354.0,1450.0 L356.0,1449.6 L358.0,1449.2 L360.0,1448.9 L362.0,1448.5 L364.0,1448.2 L366.0,1447.8 L368.0,1447.5 L370.0,1447.1 L372.0,1446.8 L374.0,1446.4 L376.0,1446.1 L378.0,1445.7 L380.0,1445.3 L382.0,1445.0 L384.0,1444.6 L386.0,1444.3 L388.0,1443.9 L390.0,1443.6 L392.0,1443.2 L394.0,1442.9 L396.0,1442.5 L398.0,1442.2 L400.0,1441.8 L402.0,1441.5 L404.0,1441.1 L406.0,1440.8 L408.0,1440.4 L410.0,1440.1 L412.0,1439.7 L414.0,1439.4 L416.0,1439.0 L418.0,1438.7 L420.0,1438.3 L422.0,1438.0 L424.0,1437.6 L426.0,1437.3 L428.0,1437.0 L430.0,1436.6 L432.0,1436.3 L434.0,1435.9 L436.0,1435.6 L438.0,1435.3 L440.0,1434.9 L442.0,1434.6 L444.0,1434.2 L446.0,1433.9 L448.0,1433.6 L450.0,1433.2 L452.0,1432.9 L454.0,1432.6 L456.0,1432.2 L458.0,1431.9 L460.0,1431.6 L462.0,1431.2 L464.0,1430.9 L466.0,1430.6 L468.0,1430.3 L470.0,1429.9 L472.0,1429.6 L474.0,1429.3 L476.0,1429.0 L478.0,1428.6 L480.0,1428.3 L482.0,1428.0 L484.0,1427.7 L486.0,1427.3 L488.0,1427.0 L490.0,1426.7 L492.0,1426.4 L494.0,1426.1 L496.0,1425.7 L498.0,1425.4 L500.0,1425.1 L502.0,1424.8 L504.0,1424.5 L506.0,1424.2 L508.0,1423.9 L510.0,1423.5 L512.0,1423.2 L514.0,1422.9 L516.0,1422.6 L518.0,1422.3 L520.0,1422.0 L522.0,1421.7 L524.0,1421.4 L526.0,1421.1 L528.0,1420.8 L530.0,1420.5 L532.0,1420.2 L534.0,1419.9 L536.0,1419.6 L538.0,1419.3 L540.0,1419.0 L542.0,1418.7 L544.0,1418.4 L546.0,1418.1 L548.0,1417.8 L550.0,1417.5 L552.0,1417.2 L554.0,1416.9 L556.0,1416.6 L558.0,1416.3 L560.0,1416.0 L562.0,1415.8 L564.0,1415.5 L566.0,1415.2 L568.0,1414.9 L570.0,1414.6 L572.0,1414.3 L574.0,1414.0 L576.0,1413.7 L578.0,1413.5 L580.0,1413.2 L582.0,1412.9 L584.0,1412.6 L586.0,1412.3 L588.0,1412.0 L590.0,1411.8 L592.0,1411.5 L594.0,1411.2 L596.0,1410.9 L598.0,1410.7 L600.0,1410.4 L602.0,1410.1 L604.0,1409.8 L606.0,1409.6 L608.0,1409.3 L610.0,1409.0 L612.0,1408.8 L614.0,1408.5 L616.0,1408.2 L618.0,1407.9 L620.0,1407.7 L622.0,1407.4 L624.0,1407.1 L626.0,1406.9 L628.0,1406.6 L630.0,1406.4 L632.0,1406.1 L634.0,1405.8 L636.0,1405.6 L638.0,1405.3 L640.0,1405.1 L642.0,1404.8 L644.0,1404.5 L646.0,1404.3 L648.0,1404.0 L650.0,1403.8 L652.0,1403.5 L654.0,1403.3 L656.0,1403.0 L658.0,1402.8 L660.0,1402.5 L662.0,1402.3 L664.0,1402.0 L666.0,1401.8 L668.0,1401.5 L670.0,1401.3 L672.0,1401.0 L674.0,1400.8 L676.0,1400.5 L678.0,1400.3 L680.0,1400.1 L682.0,1399.8 L684.0,1399.6 L686.0,1399.3 L688.0,1399.1 L690.0,1398.9 L692.0,1398.6 L694.0,1398.4 L696.0,1398.1 L698.0,1397.9 L700.0,1397.7 L702.0,1397.4 L704.0,1397.2 L706.0,1397.0 L708.0,1396.8 L710.0,1396.5 L712.0,1396.3 L714.0,1396.1 L716.0,1395.8 L718.0,1395.6 L720.0,1395.4 L722.0,1395.2 L724.0,1394.9 L726.0,1394.7 L728.0,1394.5 L730.0,1394.3 L732.0,1394.1 L734.0,1393.8 L736.0,1393.6 L738.0,1393.4 L740.0,1393.2 L742.0,1393.0 L744.0,1392.8 L746.0,1392.6 L748.0,1392.3 L750.0,1392.1 L752.0,1391.9 L754.0,1391.7 L756.0,1391.5 L758.0,1391.3 L760.0,1391.1 L762.0,1390.9 L764.0,1390.7 L766.0,1390.5 L768.0,1390.3 L770.0,1390.1 L772.0,1389.9 L774.0,1389.7 L776.0,1389.5 L778.0,1389.3 L780.0,1389.1 L782.0,1388.9 L784.0,1388.7 L786.0,1388.5 L788.0,1388.3 L790.0,1388.1 L792.0,1387.9 L794.0,1387.7 L796.0,1387.5 L798.0,1387.3 L800.0,1387.2 L802.0,1387.0 L804.0,1386.8 L806.0,1386.6 L808.0,1386.4 L810.0,1386.2 L812.0,1386.0 L814.0,1385.9 L816.0,1385.7 L818.0,1385.5 L820.0,1385.3 L822.0,1385.1 L824.0,1385.0 L826.0,1384.8 L828.0,1384.6 L830.0,1384.4 L832.0,1384.3 L834.0,1384.1 L836.0,1383.9 L838.0,1383.8 L840.0,1383.6 L842.0,1383.4 L844.0,1383.3 L846.0,1383.1 L848.0,1382.9 L850.0,1382.8 L852.0,1382.6 L854.0,1382.4 L856.0,1382.3 L858.0,1382.1 L860.0,1381.9 L862.0,1381.8 L864.0,1381.6 L866.0,1381.5 L868.0,1381.3 L870.0,1381.1 L872.0,1381.0 L874.0,1380.8 L876.0,1380.7 L878.0,1380.5 L880.0,1380.4 L882.0,1380.2 L884.0,1380.1 L886.0,1379.9 L888.0,1379.8 L890.0,1379.6 L892.0,1379.5 L894.0,1379.3 L896.0,1379.2 L898.0,1379.0 L900.0,1378.9 L902.0,1378.7 L904.0,1378.6 L906.0,1378.5 L908.0,1378.3 L910.0,1378.2 L912.0,1378.1 L914.0,1378.0 L916.0,1377.8 L918.0,1377.7 L920.0,1377.6 L922.0,1377.4 L924.0,1377.3 L926.0,1377.2 L928.0,1377.1 L930.0,1377.0 L932.0,1376.8 L934.0,1376.7 L936.0,1376.6 L938.0,1376.5 L940.0,1376.4 L942.0,1376.2 L944.0,1376.1 L946.0,1376.0 L948.0,1375.9 L950.0,1375.8 L952.0,1375.7 L954.0,1375.6 L956.0,1375.4 L958.0,1375.3 L960.0,1375.2 L962.0,1375.1 L964.0,1375.0 L966.0,1374.9 L968.0,1374.8 L970.0,1374.7 L972.0,1374.6 L974.0,1374.5 L976.0,1374.4 L978.0,1374.3 L980.0,1374.2 L982.0,1374.1 L984.0,1374.0 L986.0,1373.9 L988.0,1373.8 L990.0,1373.7 L992.0,1373.6 L994.0,1373.5 L996.0,1373.4 L998.0,1373.3 L1000.0,1373.2 L1002.0,1373.1 L1004.0,1373.0 L1006.0,1372.9 L1008.0,1372.8 L1010.0,1372.7 L1012.0,1372.6 L1014.0,1372.5 L1016.0,1372.4 L1018.0,1372.3 L1020.0,1372.2 L1022.0,1372.1 L1024.0,1372.1 L1026.0,1372.0 L1028.0,1371.9 L1030.0,1371.8 L1032.0,1371.7 L1034.0,1371.6 L1036.0,1371.5 L1038.0,1371.4 L1040.0,1371.4 L1042.0,1371.3 L1044.0,1371.2 L1046.0,1371.1 L1048.0,1371.0 L1050.0,1371.0 L1052.0,1370.9 L1054.0,1370.8 L1056.0,1370.7 L1058.0,1370.6 L1060.0,1370.6 L1062.0,1370.5 L1064.0,1370.4 L1066.0,1370.3 L1068.0,1370.2 L1070.0,1370.2 L1072.0,1370.1 L1074.0,1370.0 L1076.0,1369.9 L1078.0,1369.9 L1080.0,1369.8 L1082.0,1369.7 L1084.0,1369.6 L1086.0,1369.6 L1088.0,1369.5 L1090.0,1369.4 L1092.0,1369.4 L1094.0,1369.3 L1096.0,1369.2 L1098.0,1369.2 L1100.0,1369.1 L1102.0,1369.0 L1104.0,1368.9 L1106.0,1368.9 L1108.0,1368.8 L1110.0,1368.7 L1112.0,1368.7 L1114.0,1368.6 L1116.0,1368.5 L1118.0,1368.5 L1120.0,1368.4 L1122.0,1368.4 L1124.0,1368.3 L1126.0,1368.2 L1128.0,1368.2 L1130.0,1368.1 L1132.0,1368.0 L1134.0,1368.0 L1136.0,1367.9 L1138.0,1367.9 L1140.0,1367.8 L1142.0,1367.7 L1144.0,1367.7 L1146.0,1367.6 L1148.0,1367.6 L1150.0,1367.5 L1152.0,1367.4 L1154.0,1367.4 L1156.0,1367.3 L1158.0,1367.3 L1160.0,1367.2 L1162.0,1367.1 L1164.0,1367.1 L1166.0,1367.0 L1168.0,1367.0 L1170.0,1366.9 L1172.0,1366.9 L1174.0,1366.8 L1176.0,1366.8 L1178.0,1366.7 L1180.0,1366.6 L1182.0,1366.6 L1184.0,1366.5 L1186.0,1366.5 L1188.0,1366.4 L1190.0,1366.4 L1192.0,1366.3 L1194.0,1366.3 L1196.0,1366.2 L1198.0,1366.2 L1200.0,1366.1 L1202.0,1366.0 L1204.0,1366.0 L1206.0,1365.9 L1208.0,1365.9 L1210.0,1365.8 L1212.0,1365.7 L1214.0,1365.7 L1216.0,1365.6 L1218.0,1365.6 L1220.0,1365.5 L1222.0,1365.4 L1224.0,1365.4 L1226.0,1365.3 L1228.0,1365.3 L1230.0,1365.2 L1232.0,1365.1 L1234.0,1365.1 L1236.0,1365.0 L1238.0,1365.0 L1240.0,1364.9 L1242.0,1364.8 L1244.0,1364.8 L1246.0,1364.7 L1248.0,1364.7 L1250.0,1364.6 L1252.0,1364.6 L1254.0,1364.5 L1256.0,1364.4 L1258.0,1364.4 L1260.0,1364.3 L1262.0,1364.3 L1264.0,1364.2 L1266.0,1364.2 L1268.0,1364.1 L1270.0,1364.0 L1272.0,1364.0 L1274.0,1363.9 L1276.0,1363.9 L1278.0,1363.8 L1280.0,1363.8 L1282.0,1363.7 L1284.0,1363.6 L1286.0,1363.6 L1288.0,1363.5 L1290.0,1363.5 L1292.0,1363.4 L1294.0,1363.4 L1296.0,1363.3 L1298.0,1363.3 L1300.0,1363.2 L1302.0,1363.1 L1304.0,1363.1 L1306.0,1363.0 L1308.0,1363.0 L1310.0,1362.9 L1312.0,1362.9 L1314.0,1362.8 L1316.0,1362.8 L1318.0,1362.7 L1320.0,1362.6 L1322.0,1362.6 L1324.0,1362.5 L1326.0,1362.5 L1328.0,1362.4 L1330.0,1362.4 L1332.0,1362.3 L1334.0,1362.3 L1336.0,1362.2 L1338.0,1362.2 L1340.0,1362.1 L1342.0,1362.0 L1344.0,1362.0 L1346.0,1361.9 L1348.0,1361.9 L1350.0,1361.8 L1352.0,1361.8 L1354.0,1361.7 L1356.0,1361.7 L1358.0,1361.6 L1360.0,1361.6 L1362.0,1361.5 L1364.0,1361.4 L1366.0,1361.4 L1368.0,1361.3 L1370.0,1361.3 L1372.0,1361.2 L1374.0,1361.2 L1376.0,1361.1 L1378.0,1361.1 L1380.0,1361.0 L1382.0,1361.0 L1384.0,1360.9 L1386.0,1360.9 L1388.0,1360.8 L1390.0,1360.8 L1392.0,1360.7 L1394.0,1360.7 L1396.0,1360.6 L1398.0,1360.5 L1400.0,1360.5 L1402.0,1360.4 L1404.0,1360.4 L1406.0,1360.3 L1408.0,1360.3 L1410.0,1360.2 L1412.0,1360.2 L1414.0,1360.1 L1416.0,1360.1 L1418.0,1360.0 L1420.0,1360.0 L1422.0,1359.9 L1424.0,1359.9 L1426.0,1359.8 L1428.0,1359.8 L1430.0,1359.7 L1432.0,1359.7 L1434.0,1359.6 L1436.0,1359.6 L1438.0,1359.5 L1440.0,1359.5 L1442.0,1359.4 L1444.0,1359.4 L1446.0,1359.3 L1448.0,1359.2 L1450.0,1359.2 L1452.0,1359.1 L1454.0,1359.1 L1456.0,1359.0 L1458.0,1359.0 L1460.0,1358.9 L1462.0,1358.9 L1464.0,1358.8 L1466.0,1358.8 L1468.0,1358.7 L1470.0,1358.7 L1472.0,1358.6 L1474.0,1358.6 L1476.0,1358.5 L1478.0,1358.5 L1480.0,1358.4 L1482.0,1358.4 L1484.0,1358.3 L1486.0,1358.3 L1488.0,1358.2 L1490.0,1358.2 L1492.0,1358.1 L1494.0,1358.1 L1496.0,1358.0 L1498.0,1358.0 L1500.0,1357.9 L1502.0,1357.9 L1504.0,1357.8 L1506.0,1357.8 L1508.0,1357.7 L1510.0,1357.7 L1512.0,1357.6 L1514.0,1357.6 L1516.0,1357.5 L1518.0,1357.5 L1520.0,1357.4 L1522.0,1357.4 L1524.0,1357.3 L1526.0,1357.3 L1528.0,1357.3 L1530.0,1357.2 L1532.0,1357.2 L1534.0,1357.1 L1536.0,1357.1 L1538.0,1357.0 L1540.0,1357.0 L1542.0,1356.9 L1544.0,1356.9 L1546.0,1356.8 L1548.0,1356.8 L1550.0,1356.7 L1552.0,1356.7 L1554.0,1356.6 L1556.0,1356.6 L1558.0,1356.5 L1560.0,1356.5 L1562.0,1356.4 L1564.0,1356.4 L1566.0,1356.3 L1568.0,1356.3 L1570.0,1356.2 L1572.0,1356.2 L1574.0,1356.1 L1576.0,1356.1 L1578.0,1356.0 L1580.0,1356.0 L1582.0,1356.0 L1584.0,1355.9 L1586.0,1355.9 L1588.0,1355.8 L1590.0,1355.8 L1592.0,1355.7 L1594.0,1355.7 L1596.0,1355.6 L1598.0,1355.6 L1600.0,1355.5 L1602.0,1355.5 L1604.0,1355.4 L1606.0,1355.4 L1608.0,1355.3 L1610.0,1355.3 L1612.0,1355.3 L1614.0,1355.2 L1616.0,1355.2 L1618.0,1355.1 L1620.0,1355.1 L1622.0,1355.0 L1624.0,1355.0 L1626.0,1354.9 L1628.0,1354.9 L1630.0,1354.8 L1632.0,1354.8 L1634.0,1354.7 L1636.0,1354.7 L1638.0,1354.7 L1640.0,1354.6 L1642.0,1354.6 L1644.0,1354.5 L1646.0,1354.5 L1648.0,1354.4 L1650.0,1354.4 L1652.0,1354.3 L1654.0,1354.3 L1656.0,1354.2 L1658.0,1354.2 L1660.0,1354.2 L1662.0,1354.1 L1664.0,1354.1 L1666.0,1354.0 L1668.0,1354.0 L1670.0,1353.9 L1672.0,1353.9 L1674.0,1353.8 L1676.0,1353.8 L1678.0,1353.7 L1680.0,1353.7 L1682.0,1353.7 L1684.0,1353.6 L1686.0,1353.6 L1688.0,1353.5 L1690.0,1353.5 L1692.0,1353.4 L1694.0,1353.4 L1696.0,1353.3 L1698.0,1353.3 L1700.0,1353.3 L1702.0,1353.2 L1704.0,1353.2 L1706.0,1353.1 L1708.0,1353.1 L1710.0,1353.0 L1712.0,1353.0 L1714.0,1353.0 L1716.0,1352.9 L1718.0,1352.9 L1720.0,1352.8 L1722.0,1352.8 L1724.0,1352.7 L1726.0,1352.7 L1728.0,1352.6 L1730.0,1352.6 L1732.0,1352.6 L1734.0,1352.5 L1736.0,1352.5 L1738.0,1352.4 L1740.0,1352.4 L1742.0,1352.3 L1744.0,1352.3 L1746.0,1352.3 L1748.0,1352.2 L1750.0,1352.2 L1752.0,1352.1 L1754.0,1352.1 L1756.0,1352.0 L1758.0,1352.0 L1760.0,1352.0 L1762.0,1351.9 L1764.0,1351.9 L1766.0,1351.8 L1768.0,1351.8 L1770.0,1351.7 L1772.0,1351.7 L1774.0,1351.7 L1776.0,1351.6 L1778.0,1351.6 L1780.0,1351.5 L1782.0,1351.5 L1784.0,1351.5 L1786.0,1351.4 L1788.0,1351.4 L1790.0,1351.3 L1792.0,1351.3 L1794.0,1351.2 L1796.0,1351.2 L1798.0,1351.2 L1800.0,1351.1 L1802.0,1351.1 L1804.0,1351.0 L1806.0,1351.0 L1808.0,1351.0 L1810.0,1350.9 L1812.0,1350.9 L1814.0,1350.8 L1816.0,1350.8 L1818.0,1350.7 L1820.0,1350.7 L1822.0,1350.7 L1824.0,1350.6 L1826.0,1350.6 L1828.0,1350.5 L1830.0,1350.5 L1832.0,1350.5 L1834.0,1350.4 L1836.0,1350.4 L1838.0,1350.3 L1840.0,1350.3 L1842.0,1350.3 L1844.0,1350.2 L1846.0,1350.2 L1848.0,1350.1 L1850.0,1350.1 L1852.0,1350.1 L1854.0,1350.0 L1856.0,1350.0 L1858.0,1349.9 L1860.0,1349.9 L1862.0,1349.9 L1864.0,1349.8 L1866.0,1349.8 L1868.0,1349.7 L1870.0,1349.7 L1872.0,1349.7 L1874.0,1349.6 L1876.0,1349.6 L1878.0,1349.5 L1880.0,1349.5 L1882.0,1349.5 L1884.0,1349.4 L1886.0,1349.4 L1888.0,1349.3 L1890.0,1349.3 L1892.0,1349.3 L1894.0,1349.2 L1896.0,1349.2 L1898.0,1349.1 L1900.0,1349.1 L1902.0,1349.1 L1904.0,1349.0 L1906.0,1349.0 L1908.0,1348.9 L1910.0,1348.9 L1912.0,1348.9 L1914.0,1348.8 L1916.0,1348.8 L1918.0,1348.7 L1920.0,1348.7 L1922.0,1348.7 L1924.0,1348.6 L1926.0,1348.6 L1928.0,1348.6 L1930.0,1348.5 L1932.0,1348.5 L1934.0,1348.4 L1936.0,1348.4 L1938.0,1348.4 L1940.0,1348.3 L1942.0,1348.3 L1944.0,1348.2 L1946.0,1348.2 L1948.0,1348.2 L1950.0,1348.1 L1952.0,1348.1 L1954.0,1348.1 L1956.0,1348.0 L1958.0,1348.0 L1960.0,1347.9 L1962.0,1347.9 L1964.0,1347.9 L1966.0,1347.8 L1968.0,1347.8 L1970.0,1347.8 L1972.0,1347.7 L1974.0,1347.7 L1976.0,1347.6 L1978.0,1347.6 L1980.0,1347.6 L1982.0,1347.5 L1984.0,1347.5 L1986.0,1347.5 L1988.0,1347.4 L1990.0,1347.4 L1992.0,1347.3 L1994.0,1347.3 L1996.0,1347.3 L1998.0,1347.2 L2000.0,1347.2 L2002.0,1347.2 L2004.0,1347.1 L2006.0,1347.1 L2008.0,1347.0 L2010.0,1347.0 L2012.0,1347.0 L2014.0,1346.9 L2016.0,1346.9 L2018.0,1346.9 L2020.0,1346.8 L2022.0,1346.8 L2024.0,1346.8 L2026.0,1346.7 L2028.0,1346.7 L2030.0,1346.6 L2032.0,1346.6 L2034.0,1346.6 L2036.0,1346.5 L2038.0,1346.5 L2040.0,1346.5 L2042.0,1346.4 L2044.0,1346.4 L2046.0,1346.4 L2048.0,1346.3 L2050.0,1346.3 L2052.0,1346.2 L2054.0,1346.2 L2056.0,1346.2 L2058.0,1346.1 L2060.0,1346.1 L2062.0,1346.1 L2064.0,1346.0 L2066.0,1346.0 L2068.0,1346.0 L2070.0,1345.9 L2072.0,1345.9 L2074.0,1345.9 L2076.0,1345.8 L2078.0,1345.8 L2080.0,1345.7 L2082.0,1345.7 L2084.0,1345.7 L2086.0,1345.6 L2088.0,1345.6 L2090.0,1345.6 L2092.0,1345.5 L2094.0,1345.5 L2096.0,1345.5 L2098.0,1345.4 L2100.0,1345.4 L2102.0,1345.4 L2104.0,1345.3 L2106.0,1345.3 L2108.0,1345.3 L2110.0,1345.2 L2112.0,1345.2 L2114.0,1345.1 L2116.0,1345.1 L2118.0,1345.1 L2120.0,1345.0 L2122.0,1345.0 L2124.0,1345.0 L2126.0,1344.9 L2128.0,1344.9 L2130.0,1344.9 L2132.0,1344.8 L2134.0,1344.8 L2136.0,1344.8 L2138.0,1344.7 L2140.0,1344.7"/>
<path d="M276.0,1465.4 L278.0,1465.4 L280.0,1465.4 L282.0,1465.2 L284.0,1464.8 L286.0,1464.5 L288.0,1464.2 L290.0,1463.9 L292.0,1463.6 L294.0,1463.2 L296.0,1462.9 L298.0,1462.6 L300.0,1462.2 L302.0,1461.9 L304.0,1461.6 L306.0,1461.2 L308.0,1460.9 L310.0,1460.6 L312.0,1460.2 L314.0,1459.9 L316.0,1459.6 L318.0,1459.2 L320.0,1458.9 L322.0,1458.5 L324.0,1458.2 L326.0,1457.8 L328.0,1457.5 L330.0,1457.2 L332.0,1456.8 L334.0,1456.5 L336.0,1456.1 L338.0,1455.8 L340.0,1455.4 L342.0,1455.1 L344.0,1454.7 L346.0,1454.4 L348.0,1454.0 L350.0,1453.7 L352.0,1453.3 L354.0,1453.0 L356.0,1452.6 L358.0,1452.2 L360.0,1451.9 L362.0,1451.5 L364.0,1451.2 L366.0,1450.8 L368.0,1450.5 L370.0,1450.1 L372.0,1449.8 L374.0,1449.4 L376.0,1449.1 L378.0,1448.7 L380.0,1448.3 L382.0,1448.0 L384.0,1447.6 L386.0,1447.3 L388.0,1446.9 L390.0,1446.6 L392.0,1446.2 L394.0,1445.9 L396.0,1445.5 L398.0,1445.2 L400.0,1444.8 L402.0,1444.5 L404.0,1444.1 L406.0,1443.8 L408.0,1443.4 L410.0,1443.1 L412.0,1442.7 L414.0,1442.4 L416.0,1442.0 L418.0,1441.7 L420.0,1441.3 L422.0,1441.0 L424.0,1440.6 L426.0,1440.3 L428.0,1440.0 L430.0,1439.6 L432.0,1439.3 L434.0,1438.9 L436.0,1438.6 L438.0,1438.3 L440.0,1437.9 L442.0,1437.6 L444.0,1437.2 L446.0,1436.9 L448.0,1436.6 L450.0,1436.2 L452.0,1435.9 L454.0,1435.6 L456.0,1435.2 L458.0,1434.9 L460.0,1434.6 L462.0,1434.2 L464.0,1433.9 L466.0,1433.6 L468.0,1433.3 L470.0,1432.9 L472.0,1432.6 L474.0,1432.3 L476.0,1432.0 L478.0,1431.6 L480.0,1431.3 L482.0,1431.0 L484.0,1430.7 L486.0,1430.3 L488.0,1430.0 L490.0,1429.7 L492.0,1429.4 L494.0,1429.1 L496.0,1428.7 L498.0,1428.4 L500.0,1428.1 L502.0,1427.8 L504.0,1427.5 L506.0,1427.2 L508.0,1426.9 L510.0,1426.5 L512.0,1426.2 L514.0,1425.9 L516.0,1425.6 L518.0,1425.3 L520.0,1425.0 L522.0,1424.7 L524.0,1424.4 L526.0,1424.1 L528.0,1423.8 L530.0,1423.5 L532.0,1423.2 L534.0,1422.9 L536.0,1422.6 L538.0,1422.3 L540.0,1422.0 L542.0,1421.7 L544.0,1421.4 L546.0,1421.1 L548.0,1420.8 L550.0,1420.5 L552.0,1420.2 L554.0,1419.9 L556.0,1419.6 L558.0,1419.3 L560.0,1419.0 L562.0,1418.8 L564.0,1418.5 L566.0,1418.2 L568.0,1417.9 L570.0,1417.6 L572.0,1417.3 L574.0,1417.0 L576.0,1416.7 L578.0,1416.5 L580.0,1416.2 L582.0,1415.9 L584.0,1415.6 L586.0,1415.3 L588.0,1415.0 L590.0,1414.8 L592.0,1414.5 L594.0,1414.2 L596.0,1413.9 L598.0,1413.7 L600.0,1413.4 L602.0,1413.1 L604.0,1412.8 L606.0,1412.6 L608.0,1412.3 L610.0,1412.0 L612.0,1411.8 L614.0,1411.5 L616.0,1411.2 L618.0,1410.9 L620.0,1410.7 L622.0,1410.4 L624.0,1410.1 L626.0,1409.9 L628.0,1409.6 L630.0,1409.4 L632.0,1409.1 L634.0,1408.8 L636.0,1408.6 L638.0,1408.3 L640.0,1408.1 L642.0,1407.8 L644.0,1407.5 L646.0,1407.3 L648.0,1407.0 L650.0,1406.8 L652.0,1406.5 L654.0,1406.3 L656.0,1406.0 L658.0,1405.8 L660.0,1405.5 L662.0,1405.3 L664.0,1405.0 L666.0,1404.8 L668.0,1404.5 L670.0,1404.3 L672.0,1404.0 L674.0,1403.8 L676.0,1403.5 L678.0,1403.3 L680.0,1403.1 L682.0,1402.8 L684.0,1402.6 L686.0,1402.3 L688.0,1402.1 L690.0,1401.9 L692.0,1401.6 L694.0,1401.4 L696.0,1401.1 L698.0,1400.9 L700.0,1400.7 L702.0,1400.4 L704.0,1400.2 L706.0,1400.0 L708.0,1399.8 L710.0,1399.5 L712.0,1399.3 L714.0,1399.1 L716.0,1398.8 L718.0,1398.6 L720.0,1398.4 L722.0,1398.2 L724.0,1397.9 L726.0,1397.7 L728.0,1397.5 L730.0,1397.3 L732.0,1397.1 L734.0,1396.8 L736.0,1396.6 L738.0,1396.4 L740.0,1396.2 L742.0,1396.0 L744.0,1395.8 L746.0,1395.6 L748.0,1395.3 L750.0,1395.1 L752.0,1394.9 L754.0,1394.7 L756.0,1394.5 L758.0,1394.3 L760.0,1394.1 L762.0,1393.9 L764.0,1393.7 L766.0,1393.5 L768.0,1393.3 L770.0,1393.1 L772.0,1392.9 L774.0,1392.7 L776.0,1392.5 L778.0,1392.3 L780.0,1392.1 L782.0,1391.9 L784.0,1391.7 L786.0,1391.5 L788.0,1391.3 L790.0,1391.1 L792.0,1390.9 L794.0,1390.7 L796.0,1390.5 L798.0,1390.3 L800.0,1390.2 L802.0,1390.0 L804.0,1389.8 L806.0,1389.6 L808.0,1389.4 L810.0,1389.2 L812.0,1389.0 L814.0,1388.9 L816.0,1388.7 L818.0,1388.5 L820.0,1388.3 L822.0,1388.1 L824.0,1388.0 L826.0,1387.8 L828.0,1387.6 L830.0,1387.4 L832.0,1387.3 L834.0,1387.1 L836.0,1386.9 L838.0,1386.8 L840.0,1386.6 L842.0,1386.4 L844.0,1386.3 L846.0,1386.1 L848.0,1385.9 L850.0,1385.8 L852.0,1385.6 L854.0,1385.4 L856.0,1385.3 L858.0,1385.1 L860.0,1384.9 L862.0,1384.8 L864.0,1384.6 L866.0,1384.5 L868.0,1384.3 L870.0,1384.1 L872.0,1384.0 L874.0,1383.8 L876.0,1383.7 L878.0,1383.5 L880.0,1383.4 L882.0,1383.2 L884.0,1383.1 L886.0,1382.9 L888.0,1382.8 L890.0,1382.6 L892.0,1382.5 L894.0,1382.3 L896.0,1382.2 L898.0,1382.0 L900.0,1381.9 L902.0,1381.7 L904.0,1381.6 L906.0,1381.4 L908.0,1381.3 L910.0,1381.1 L912.0,1381.0 L914.0,1380.8 L916.0,1380.7 L918.0,1380.5 L920.0,1380.4 L922.0,1380.2 L924.0,1380.1 L926.0,1379.9 L928.0,1379.8 L930.0,1379.7 L932.0,1379.5 L934.0,1379.4 L936.0,1379.2 L938.0,1379.1 L940.0,1379.0 L942.0,1378.8 L944.0,1378.7 L946.0,1378.5 L948.0,1378.4 L950.0,1378.3 L952.0,1378.1 L954.0,1378.0 L956.0,1377.9 L958.0,1377.8 L960.0,1377.6 L962.0,1377.5 L964.0,1377.4 L966.0,1377.2 L968.0,1377.1 L970.0,1377.0 L972.0,1376.9 L974.0,1376.7 L976.0,1376.6 L978.0,1376.5 L980.0,1376.4 L982.0,1376.2 L984.0,1376.1 L986.0,1376.0 L988.0,1375.9 L990.0,1375.8 L992.0,1375.6 L994.0,1375.5 L996.0,1375.4 L998.0,1375.3 L1000.0,1375.2 L1002.0,1375.0 L1004.0,1374.9 L1006.0,1374.8 L1008.0,1374.7 L1010.0,1374.6 L1012.0,1374.5 L1014.0,1374.4 L1016.0,1374.3 L1018.0,1374.1 L1020.0,1374.0 L1022.0,1373.9 L1024.0,1373.8 L1026.0,1373.7 L1028.0,1373.6 L1030.0,1373.5 L1032.0,1373.4 L1034.0,1373.3 L1036.0,1373.2 L1038.0,1373.1 L1040.0,1373.0 L1042.0,1372.9 L1044.0,1372.8 L1046.0,1372.7 L1048.0,1372.6 L1050.0,1372.5 L1052.0,1372.4 L1054.0,1372.3 L1056.0,1372.2 L1058.0,1372.1 L1060.0,1372.0 L1062.0,1371.9 L1064.0,1371.8 L1066.0,1371.7 L1068.0,1371.6 L1070.0,1371.5 L1072.0,1371.4 L1074.0,1371.3 L1076.0,1371.2 L1078.0,1371.1 L1080.0,1371.0 L1082.0,1370.9 L1084.0,1370.8 L1086.0,1370.7 L1088.0,1370.6 L1090.0,1370.5 L1092.0,1370.4 L1094.0,1370.4 L1096.0,1370.3 L1098.0,1370.2 L1100.0,1370.1 L1102.0,1370.0 L1104.0,1369.9 L1106.0,1369.8 L1108.0,1369.7 L1110.0,1369.6 L1112.0,1369.6 L1114.0,1369.5 L1116.0,1369.4 L1118.0,1369.3 L1120.0,1369.2 L1122.0,1369.1 L1124.0,1369.0 L1126.0,1369.0 L1128.0,1368.9 L1130.0,1368.8 L1132.0,1368.7 L1134.0,1368.6 L1136.0,1368.6 L1138.0,1368.5 L1140.0,1368.4 L1142.0,1368.3 L1144.0,1368.2 L1146.0,1368.2 L1148.0,1368.1 L1150.0,1368.0 L1152.0,1367.9 L1154.0,1367.8 L1156.0,1367.8 L1158.0,1367.7 L1160.0,1367.6 L1162.0,1367.5 L1164.0,1367.4 L1166.0,1367.4 L1168.0,1367.3 L1170.0,1367.2 L1172.0,1367.1 L1174.0,1367.1 L1176.0,1367.0 L1178.0,1366.9 L1180.0,1366.8 L1182.0,1366.8 L1184.0,1366.7 L1186.0,1366.6 L1188.0,1366.5 L1190.0,1366.5 L1192.0,1366.4 L1194.0,1366.3 L1196.0,1366.3 L1198.0,1366.2 L1200.0,1366.1"/>
</g>
<rect x="252.0" y="48.0" width="1890.3000000000002" height="1417.4" fill="none" stroke="#000" stroke-width="5.2"/>
<g stroke="#000" stroke-width="5.0" stroke-linecap="butt">
<line x1="488.3" y1="1465.4" x2="488.3" y2="1445.4"/>
<line x1="724.6" y1="1465.4" x2="724.6" y2="1429.4"/>
<line x1="960.9" y1="1465.4" x2="960.9" y2="1445.4"/>
<line x1="1197.2" y1="1465.4" x2="1197.2" y2="1429.4"/>
<line x1="1433.4" y1="1465.4" x2="1433.4" y2="1445.4"/>
<line x1="1669.7" y1="1465.4" x2="1669.7" y2="1429.4"/>
<line x1="1906.0" y1="1465.4" x2="1906.0" y2="1445.4"/>
<line x1="252.0" y1="1288.2" x2="272.0" y2="1288.2"/>
<line x1="252.0" y1="1111.1" x2="288.0" y2="1111.1"/>
<line x1="252.0" y1="933.9" x2="272.0" y2="933.9"/>
<line x1="252.0" y1="756.7" x2="288.0" y2="756.7"/>
<line x1="252.0" y1="579.5" x2="272.0" y2="579.5"/>
<line x1="252.0" y1="402.3" x2="288.0" y2="402.3"/>
<line x1="252.0" y1="225.2" x2="272.0" y2="225.2"/>
</g>
<g font-size="64">
<text transform="translate(252.0,1540.8) scale(0.985,1.035)" text-anchor="middle">0</text>
<text transform="translate(724.6,1540.8) scale(0.985,1.035)" text-anchor="middle">5</text>
<text transform="translate(1197.2,1540.8) scale(0.985,1.035)" text-anchor="middle">10</text>
<text transform="translate(1669.7,1540.8) scale(0.985,1.035)" text-anchor="middle">15</text>
<text transform="translate(2142.3,1540.8) scale(0.985,1.035)" text-anchor="middle">20</text>
<text transform="translate(224.3,1487.4) scale(0.965,1.03)" text-anchor="end">0</text>
<text transform="translate(224.3,1133.1) scale(0.965,1.03)" text-anchor="end">0.05</text>
<text transform="translate(224.3,778.7) scale(0.965,1.03)" text-anchor="end">0.1</text>
<text transform="translate(224.3,424.3) scale(0.965,1.03)" text-anchor="end">0.15</text>
<text transform="translate(224.3,70.0) scale(0.965,1.03)" text-anchor="end">0.2</text>
</g>
<text x="1197.5" y="1634" font-size="73.8" text-anchor="middle">Time (min)</text>
<text transform="translate(87.5,757) rotate(-90)" font-size="73.8" text-anchor="middle">Weight Loss Fraction</text>
<g font-size="74" text-anchor="end">
<text x="1739.5" y="201">250 <tspan font-size="48.5" dy="-26.5">o</tspan><tspan dy="26.5">C</tspan></text>
<text x="1739.5" y="717.5">180 <tspan font-size="48.5" dy="-26.5">o</tspan><tspan dy="26.5">C</tspan></text>
<text x="1739.5" y="906.5">150 <tspan font-size="48.5" dy="-26.5">o</tspan><tspan dy="26.5">C</tspan></text>
<text x="1739.5" y="1050">130 <tspan font-size="48.5" dy="-26.5">o</tspan><tspan dy="26.5">C</tspan></text>
<text x="1739.5" y="1195">110 <tspan font-size="48.5" dy="-26.5">o</tspan><tspan dy="26.5">C</tspan></text>
<text x="1739.5" y="1334">80 <tspan font-size="48.5" dy="-26.5">o</tspan><tspan dy="26.5">C</tspan></text>
</g>
</g>
</svg></body></html>
